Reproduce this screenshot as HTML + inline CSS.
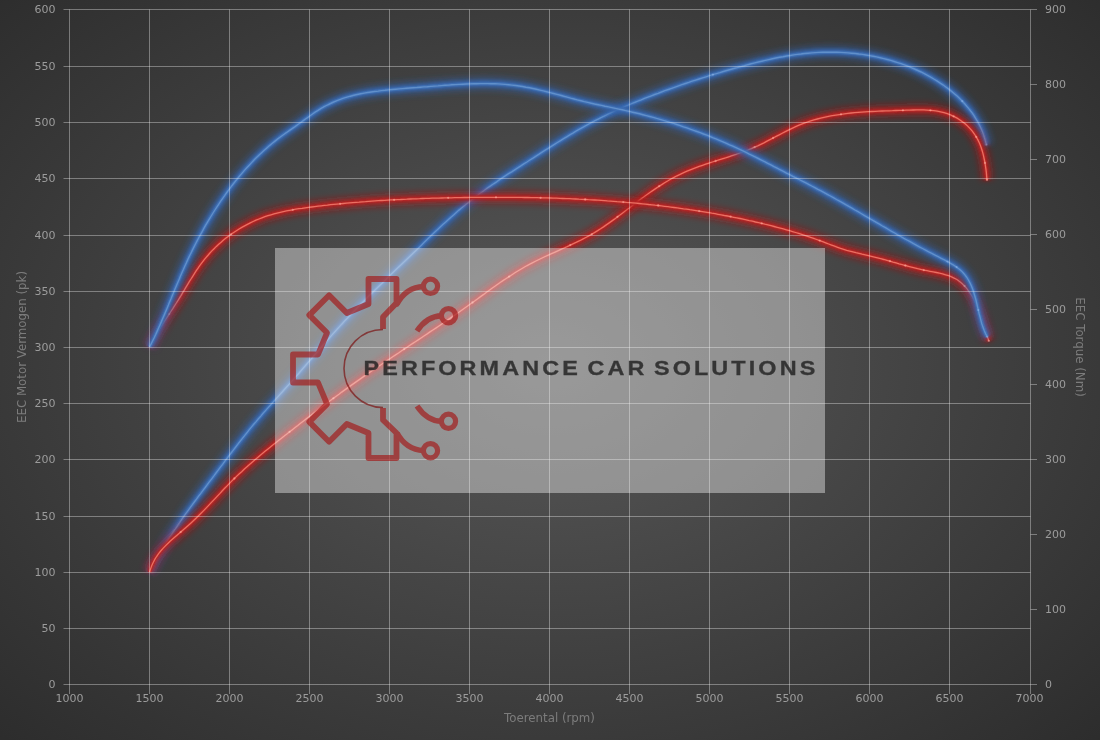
<!DOCTYPE html><html><head><meta charset="utf-8"><title>EEC dyno chart</title><style>
html,body{margin:0;padding:0;}
body{width:1100px;height:740px;overflow:hidden;background:radial-gradient(798px 563px at 550px 362.7px,rgb(88,88,88) 0%,rgb(43,43,43) 100%);}
svg{position:absolute;left:0;top:0;display:block;}
.lbl{font-family:"DejaVu Sans","Liberation Sans",sans-serif;font-size:11px;fill:#9c9c9c;}
.ttl{font-family:"DejaVu Sans","Liberation Sans",sans-serif;font-size:11.8px;fill:#7c7c7c;}
.wm{font-family:"Liberation Sans","DejaVu Sans",sans-serif;font-weight:bold;font-size:19.5px;letter-spacing:2.6px;word-spacing:-2.6px;fill:#1e1e1e;stroke:#1e1e1e;stroke-width:0.3px;opacity:0.8;}
</style></head><body>
<svg width="1100" height="740" viewBox="0 0 1100 740">
<defs>
<filter id="gw" x="-10%" y="-10%" width="120%" height="120%"><feGaussianBlur stdDeviation="3.2"/></filter>
<filter id="gn" x="-10%" y="-10%" width="120%" height="120%"><feGaussianBlur stdDeviation="1.4"/></filter>
<filter id="soft" x="-5%" y="-5%" width="110%" height="110%"><feGaussianBlur stdDeviation="0.6"/></filter>
</defs>
<text class="lbl" x="55.5" y="687.7" text-anchor="end">0</text>
<text class="lbl" x="55.5" y="631.7" text-anchor="end">50</text>
<text class="lbl" x="55.5" y="575.7" text-anchor="end">100</text>
<text class="lbl" x="55.5" y="519.7" text-anchor="end">150</text>
<text class="lbl" x="55.5" y="462.7" text-anchor="end">200</text>
<text class="lbl" x="55.5" y="406.7" text-anchor="end">250</text>
<text class="lbl" x="55.5" y="350.7" text-anchor="end">300</text>
<text class="lbl" x="55.5" y="294.7" text-anchor="end">350</text>
<text class="lbl" x="55.5" y="238.7" text-anchor="end">400</text>
<text class="lbl" x="55.5" y="181.7" text-anchor="end">450</text>
<text class="lbl" x="55.5" y="125.7" text-anchor="end">500</text>
<text class="lbl" x="55.5" y="69.7" text-anchor="end">550</text>
<text class="lbl" x="55.5" y="12.7" text-anchor="end">600</text>
<text class="lbl" x="69.5" y="701.7" text-anchor="middle">1000</text>
<text class="lbl" x="149.5" y="701.7" text-anchor="middle">1500</text>
<text class="lbl" x="229.5" y="701.7" text-anchor="middle">2000</text>
<text class="lbl" x="309.5" y="701.7" text-anchor="middle">2500</text>
<text class="lbl" x="389.5" y="701.7" text-anchor="middle">3000</text>
<text class="lbl" x="469.5" y="701.7" text-anchor="middle">3500</text>
<text class="lbl" x="549.5" y="701.7" text-anchor="middle">4000</text>
<text class="lbl" x="629.5" y="701.7" text-anchor="middle">4500</text>
<text class="lbl" x="709.5" y="701.7" text-anchor="middle">5000</text>
<text class="lbl" x="789.5" y="701.7" text-anchor="middle">5500</text>
<text class="lbl" x="869.5" y="701.7" text-anchor="middle">6000</text>
<text class="lbl" x="949.5" y="701.7" text-anchor="middle">6500</text>
<text class="lbl" x="1029.5" y="701.7" text-anchor="middle">7000</text>
<text class="lbl" x="1045" y="687.7">0</text>
<text class="lbl" x="1045" y="612.7">100</text>
<text class="lbl" x="1045" y="537.7">200</text>
<text class="lbl" x="1045" y="462.7">300</text>
<text class="lbl" x="1045" y="387.7">400</text>
<text class="lbl" x="1045" y="312.7">500</text>
<text class="lbl" x="1045" y="237.7">600</text>
<text class="lbl" x="1045" y="162.7">700</text>
<text class="lbl" x="1045" y="87.7">800</text>
<text class="lbl" x="1045" y="12.7">900</text>
<text class="ttl" x="0" y="0" text-anchor="middle" transform="translate(25.5,347) rotate(-90)">EEC Motor Vermogen (pk)</text>
<text class="ttl" x="0" y="0" text-anchor="middle" transform="translate(1075.5,347) rotate(90)">EEC Torque (Nm)</text>
<text class="ttl" x="549.5" y="722" text-anchor="middle">Toerental (rpm)</text>
<path d="M149.7,572.2 L151.3,569.0 L153.0,565.7 L154.7,562.6 L156.4,559.4 L158.2,556.2 L160.0,553.1 L161.9,550.0 L163.7,546.9 L165.6,543.8 L167.5,540.7 L169.5,537.6 L171.5,534.6 L173.4,531.6 L175.5,528.6 L177.5,525.6 L179.6,522.6 L181.6,519.6 L183.7,516.7 L185.8,513.7 L187.9,510.8 L190.0,507.8 L192.2,504.9 L194.3,502.0 L196.5,499.1 L198.6,496.2 L200.8,493.3 L203.0,490.4 L205.2,487.5 L207.3,484.6 L209.5,481.7 L211.7,478.8 L213.9,475.9 L216.0,473.0 L218.2,470.1 L220.4,467.2 L222.6,464.3 L224.7,461.4 L226.9,458.5 L229.1,455.6 L231.3,452.8 L233.5,449.9 L235.7,447.0 L237.9,444.1 L240.1,441.3 L242.4,438.4 L244.6,435.6 L246.9,432.8 L249.1,429.9 L251.4,427.1 L253.7,424.3 L256.1,421.6 L258.4,418.8 L260.8,416.1 L263.1,413.3 L265.5,410.6 L267.9,407.9 L270.3,405.2 L272.7,402.5 L275.2,399.8 L277.6,397.1 L280.0,394.4 L282.4,391.7 L284.8,389.0 L287.3,386.3 L289.7,383.6 L292.1,380.9 L294.5,378.2 L296.9,375.5 L299.3,372.8 L301.6,370.0 L304.0,367.3 L306.4,364.5 L308.7,361.8 L311.1,359.1 L313.5,356.3 L315.8,353.6 L318.2,350.8 L320.6,348.1 L322.9,345.3 L325.3,342.6 L327.7,339.9 L330.1,337.1 L332.5,334.4 L334.9,331.7 L337.3,329.0 L339.7,326.4 L342.2,323.7 L344.6,321.0 L347.1,318.4 L349.6,315.7 L352.1,313.1 L354.6,310.5 L357.1,307.9 L359.7,305.3 L362.2,302.7 L364.8,300.2 L367.3,297.6 L369.9,295.1 L372.5,292.5 L375.0,290.0 L377.6,287.4 L380.2,284.9 L382.8,282.4 L385.4,279.9 L388.0,277.3 L390.6,274.8 L393.2,272.3 L395.8,269.8 L398.4,267.3 L401.1,264.8 L403.7,262.3 L406.3,259.8 L408.9,257.2 L411.5,254.7 L414.1,252.2 L416.7,249.7 L419.3,247.2 L421.9,244.7 L424.5,242.1 L427.1,239.6 L429.7,237.1 L432.3,234.6 L434.9,232.1 L437.6,229.6 L440.2,227.1 L442.8,224.6 L445.5,222.2 L448.2,219.7 L450.9,217.3 L453.6,214.9 L456.3,212.5 L459.0,210.1 L461.8,207.8 L464.6,205.5 L467.4,203.2 L470.2,200.9 L473.1,198.7 L475.9,196.5 L478.8,194.3 L481.7,192.2 L484.7,190.0 L487.6,187.9 L490.6,185.9 L493.6,183.8 L496.6,181.8 L499.6,179.7 L502.6,177.7 L505.6,175.7 L508.6,173.7 L511.7,171.8 L514.7,169.8 L517.7,167.8 L520.8,165.9 L523.8,163.9 L526.9,162.0 L529.9,160.0 L533.0,158.1 L536.0,156.1 L539.1,154.2 L542.1,152.2 L545.2,150.2 L548.2,148.3 L551.3,146.4 L554.4,144.4 L557.4,142.5 L560.5,140.6 L563.6,138.7 L566.7,136.8 L569.8,134.9 L572.9,133.1 L576.0,131.2 L579.1,129.4 L582.3,127.6 L585.4,125.9 L588.6,124.1 L591.8,122.4 L595.0,120.7 L598.2,119.1 L601.5,117.4 L604.7,115.8 L608.0,114.2 L611.3,112.7 L614.5,111.2 L617.8,109.7 L621.1,108.2 L624.5,106.7 L627.8,105.3 L631.1,103.9 L634.5,102.5 L637.8,101.1 L641.2,99.8 L644.5,98.4 L647.9,97.1 L651.3,95.8 L654.7,94.5 L658.1,93.3 L661.5,92.0 L664.9,90.7 L668.3,89.5 L671.7,88.3 L675.1,87.1 L678.5,85.9 L681.9,84.7 L685.4,83.5 L688.8,82.4 L692.2,81.2 L695.7,80.1 L699.1,79.0 L702.6,77.9 L706.0,76.8 L709.5,75.7 L712.9,74.7 L716.4,73.6 L719.9,72.6 L723.3,71.5 L726.8,70.5 L730.3,69.5 L733.8,68.5 L737.3,67.6 L740.8,66.6 L744.3,65.7 L747.8,64.7 L751.3,63.8 L754.8,62.9 L758.3,62.0 L761.8,61.2 L765.3,60.4 L768.9,59.6 L772.4,58.8 L775.9,58.0 L779.5,57.3 L783.1,56.7 L786.6,56.0 L790.2,55.5 L793.8,54.9 L797.4,54.4 L801.0,54.0 L804.6,53.5 L808.2,53.2 L811.8,52.9 L815.4,52.6 L819.0,52.4 L822.6,52.3 L826.2,52.2 L829.9,52.2 L833.5,52.2 L837.1,52.3 L840.7,52.4 L844.3,52.6 L848.0,52.9 L851.6,53.2 L855.2,53.5 L858.8,54.0 L862.4,54.4 L865.9,55.0 L869.5,55.6 L873.1,56.2 L876.6,56.9 L880.2,57.7 L883.7,58.6 L887.2,59.5 L890.7,60.4 L894.1,61.5 L897.6,62.6 L901.0,63.7 L904.4,64.9 L907.8,66.2 L911.2,67.6 L914.5,69.0 L917.8,70.5 L921.1,72.0 L924.3,73.7 L927.5,75.4 L930.7,77.1 L933.8,79.0 L936.9,80.8 L939.9,82.8 L942.9,84.8 L945.9,87.0 L948.8,89.1 L951.6,91.4 L954.4,93.7 L957.1,96.1 L959.7,98.6 L962.3,101.2 L964.7,103.8 L967.1,106.6 L969.4,109.4 L971.6,112.2 L973.7,115.2 L975.6,118.3 L977.5,121.4 L979.2,124.6 L980.7,127.8 L982.2,131.2 L983.4,134.6 L984.6,138.0 L985.6,141.5 L986.4,145.0" fill="none" stroke="#2d5ea8" stroke-width="13" stroke-opacity="0.55" filter="url(#gw)"/>
<path d="M149.7,572.2 L151.3,569.0 L153.0,565.7 L154.7,562.6 L156.4,559.4 L158.2,556.2 L160.0,553.1 L161.9,550.0 L163.7,546.9 L165.6,543.8 L167.5,540.7 L169.5,537.6 L171.5,534.6 L173.4,531.6 L175.5,528.6 L177.5,525.6 L179.6,522.6 L181.6,519.6 L183.7,516.7 L185.8,513.7 L187.9,510.8 L190.0,507.8 L192.2,504.9 L194.3,502.0 L196.5,499.1 L198.6,496.2 L200.8,493.3 L203.0,490.4 L205.2,487.5 L207.3,484.6 L209.5,481.7 L211.7,478.8 L213.9,475.9 L216.0,473.0 L218.2,470.1 L220.4,467.2 L222.6,464.3 L224.7,461.4 L226.9,458.5 L229.1,455.6 L231.3,452.8 L233.5,449.9 L235.7,447.0 L237.9,444.1 L240.1,441.3 L242.4,438.4 L244.6,435.6 L246.9,432.8 L249.1,429.9 L251.4,427.1 L253.7,424.3 L256.1,421.6 L258.4,418.8 L260.8,416.1 L263.1,413.3 L265.5,410.6 L267.9,407.9 L270.3,405.2 L272.7,402.5 L275.2,399.8 L277.6,397.1 L280.0,394.4 L282.4,391.7 L284.8,389.0 L287.3,386.3 L289.7,383.6 L292.1,380.9 L294.5,378.2 L296.9,375.5 L299.3,372.8 L301.6,370.0 L304.0,367.3 L306.4,364.5 L308.7,361.8 L311.1,359.1 L313.5,356.3 L315.8,353.6 L318.2,350.8 L320.6,348.1 L322.9,345.3 L325.3,342.6 L327.7,339.9 L330.1,337.1 L332.5,334.4 L334.9,331.7 L337.3,329.0 L339.7,326.4 L342.2,323.7 L344.6,321.0 L347.1,318.4 L349.6,315.7 L352.1,313.1 L354.6,310.5 L357.1,307.9 L359.7,305.3 L362.2,302.7 L364.8,300.2 L367.3,297.6 L369.9,295.1 L372.5,292.5 L375.0,290.0 L377.6,287.4 L380.2,284.9 L382.8,282.4 L385.4,279.9 L388.0,277.3 L390.6,274.8 L393.2,272.3 L395.8,269.8 L398.4,267.3 L401.1,264.8 L403.7,262.3 L406.3,259.8 L408.9,257.2 L411.5,254.7 L414.1,252.2 L416.7,249.7 L419.3,247.2 L421.9,244.7 L424.5,242.1 L427.1,239.6 L429.7,237.1 L432.3,234.6 L434.9,232.1 L437.6,229.6 L440.2,227.1 L442.8,224.6 L445.5,222.2 L448.2,219.7 L450.9,217.3 L453.6,214.9 L456.3,212.5 L459.0,210.1 L461.8,207.8 L464.6,205.5 L467.4,203.2 L470.2,200.9 L473.1,198.7 L475.9,196.5 L478.8,194.3 L481.7,192.2 L484.7,190.0 L487.6,187.9 L490.6,185.9 L493.6,183.8 L496.6,181.8 L499.6,179.7 L502.6,177.7 L505.6,175.7 L508.6,173.7 L511.7,171.8 L514.7,169.8 L517.7,167.8 L520.8,165.9 L523.8,163.9 L526.9,162.0 L529.9,160.0 L533.0,158.1 L536.0,156.1 L539.1,154.2 L542.1,152.2 L545.2,150.2 L548.2,148.3 L551.3,146.4 L554.4,144.4 L557.4,142.5 L560.5,140.6 L563.6,138.7 L566.7,136.8 L569.8,134.9 L572.9,133.1 L576.0,131.2 L579.1,129.4 L582.3,127.6 L585.4,125.9 L588.6,124.1 L591.8,122.4 L595.0,120.7 L598.2,119.1 L601.5,117.4 L604.7,115.8 L608.0,114.2 L611.3,112.7 L614.5,111.2 L617.8,109.7 L621.1,108.2 L624.5,106.7 L627.8,105.3 L631.1,103.9 L634.5,102.5 L637.8,101.1 L641.2,99.8 L644.5,98.4 L647.9,97.1 L651.3,95.8 L654.7,94.5 L658.1,93.3 L661.5,92.0 L664.9,90.7 L668.3,89.5 L671.7,88.3 L675.1,87.1 L678.5,85.9 L681.9,84.7 L685.4,83.5 L688.8,82.4 L692.2,81.2 L695.7,80.1 L699.1,79.0 L702.6,77.9 L706.0,76.8 L709.5,75.7 L712.9,74.7 L716.4,73.6 L719.9,72.6 L723.3,71.5 L726.8,70.5 L730.3,69.5 L733.8,68.5 L737.3,67.6 L740.8,66.6 L744.3,65.7 L747.8,64.7 L751.3,63.8 L754.8,62.9 L758.3,62.0 L761.8,61.2 L765.3,60.4 L768.9,59.6 L772.4,58.8 L775.9,58.0 L779.5,57.3 L783.1,56.7 L786.6,56.0 L790.2,55.5 L793.8,54.9 L797.4,54.4 L801.0,54.0 L804.6,53.5 L808.2,53.2 L811.8,52.9 L815.4,52.6 L819.0,52.4 L822.6,52.3 L826.2,52.2 L829.9,52.2 L833.5,52.2 L837.1,52.3 L840.7,52.4 L844.3,52.6 L848.0,52.9 L851.6,53.2 L855.2,53.5 L858.8,54.0 L862.4,54.4 L865.9,55.0 L869.5,55.6 L873.1,56.2 L876.6,56.9 L880.2,57.7 L883.7,58.6 L887.2,59.5 L890.7,60.4 L894.1,61.5 L897.6,62.6 L901.0,63.7 L904.4,64.9 L907.8,66.2 L911.2,67.6 L914.5,69.0 L917.8,70.5 L921.1,72.0 L924.3,73.7 L927.5,75.4 L930.7,77.1 L933.8,79.0 L936.9,80.8 L939.9,82.8 L942.9,84.8 L945.9,87.0 L948.8,89.1 L951.6,91.4 L954.4,93.7 L957.1,96.1 L959.7,98.6 L962.3,101.2 L964.7,103.8 L967.1,106.6 L969.4,109.4 L971.6,112.2 L973.7,115.2 L975.6,118.3 L977.5,121.4 L979.2,124.6 L980.7,127.8 L982.2,131.2 L983.4,134.6 L984.6,138.0 L985.6,141.5 L986.4,145.0" fill="none" stroke="#3566ae" stroke-width="6.5" stroke-opacity="0.85" filter="url(#gn)"/>
<g filter="url(#soft)">
<path d="M149.7,572.2 L151.3,569.0 L153.0,565.7 L154.7,562.6 L156.4,559.4 L158.2,556.2 L160.0,553.1 L161.9,550.0 L163.7,546.9 L165.6,543.8 L167.5,540.7 L169.5,537.6 L171.5,534.6 L173.4,531.6 L175.5,528.6 L177.5,525.6 L179.6,522.6 L181.6,519.6 L183.7,516.7 L185.8,513.7 L187.9,510.8 L190.0,507.8 L192.2,504.9 L194.3,502.0 L196.5,499.1 L198.6,496.2 L200.8,493.3 L203.0,490.4 L205.2,487.5 L207.3,484.6 L209.5,481.7 L211.7,478.8 L213.9,475.9 L216.0,473.0 L218.2,470.1 L220.4,467.2 L222.6,464.3 L224.7,461.4 L226.9,458.5 L229.1,455.6 L231.3,452.8 L233.5,449.9 L235.7,447.0 L237.9,444.1 L240.1,441.3 L242.4,438.4 L244.6,435.6 L246.9,432.8 L249.1,429.9 L251.4,427.1 L253.7,424.3 L256.1,421.6 L258.4,418.8 L260.8,416.1 L263.1,413.3 L265.5,410.6 L267.9,407.9 L270.3,405.2 L272.7,402.5 L275.2,399.8 L277.6,397.1 L280.0,394.4 L282.4,391.7 L284.8,389.0 L287.3,386.3 L289.7,383.6 L292.1,380.9 L294.5,378.2 L296.9,375.5 L299.3,372.8 L301.6,370.0 L304.0,367.3 L306.4,364.5 L308.7,361.8 L311.1,359.1 L313.5,356.3 L315.8,353.6 L318.2,350.8 L320.6,348.1 L322.9,345.3 L325.3,342.6 L327.7,339.9 L330.1,337.1 L332.5,334.4 L334.9,331.7 L337.3,329.0 L339.7,326.4 L342.2,323.7 L344.6,321.0 L347.1,318.4 L349.6,315.7 L352.1,313.1 L354.6,310.5 L357.1,307.9 L359.7,305.3 L362.2,302.7 L364.8,300.2 L367.3,297.6 L369.9,295.1 L372.5,292.5 L375.0,290.0 L377.6,287.4 L380.2,284.9 L382.8,282.4 L385.4,279.9 L388.0,277.3 L390.6,274.8 L393.2,272.3 L395.8,269.8 L398.4,267.3 L401.1,264.8 L403.7,262.3 L406.3,259.8 L408.9,257.2 L411.5,254.7 L414.1,252.2 L416.7,249.7 L419.3,247.2 L421.9,244.7 L424.5,242.1 L427.1,239.6 L429.7,237.1 L432.3,234.6 L434.9,232.1 L437.6,229.6 L440.2,227.1 L442.8,224.6 L445.5,222.2 L448.2,219.7 L450.9,217.3 L453.6,214.9 L456.3,212.5 L459.0,210.1 L461.8,207.8 L464.6,205.5 L467.4,203.2 L470.2,200.9 L473.1,198.7 L475.9,196.5 L478.8,194.3 L481.7,192.2 L484.7,190.0 L487.6,187.9 L490.6,185.9 L493.6,183.8 L496.6,181.8 L499.6,179.7 L502.6,177.7 L505.6,175.7 L508.6,173.7 L511.7,171.8 L514.7,169.8 L517.7,167.8 L520.8,165.9 L523.8,163.9 L526.9,162.0 L529.9,160.0 L533.0,158.1 L536.0,156.1 L539.1,154.2 L542.1,152.2 L545.2,150.2 L548.2,148.3 L551.3,146.4 L554.4,144.4 L557.4,142.5 L560.5,140.6 L563.6,138.7 L566.7,136.8 L569.8,134.9 L572.9,133.1 L576.0,131.2 L579.1,129.4 L582.3,127.6 L585.4,125.9 L588.6,124.1 L591.8,122.4 L595.0,120.7 L598.2,119.1 L601.5,117.4 L604.7,115.8 L608.0,114.2 L611.3,112.7 L614.5,111.2 L617.8,109.7 L621.1,108.2 L624.5,106.7 L627.8,105.3 L631.1,103.9 L634.5,102.5 L637.8,101.1 L641.2,99.8 L644.5,98.4 L647.9,97.1 L651.3,95.8 L654.7,94.5 L658.1,93.3 L661.5,92.0 L664.9,90.7 L668.3,89.5 L671.7,88.3 L675.1,87.1 L678.5,85.9 L681.9,84.7 L685.4,83.5 L688.8,82.4 L692.2,81.2 L695.7,80.1 L699.1,79.0 L702.6,77.9 L706.0,76.8 L709.5,75.7 L712.9,74.7 L716.4,73.6 L719.9,72.6 L723.3,71.5 L726.8,70.5 L730.3,69.5 L733.8,68.5 L737.3,67.6 L740.8,66.6 L744.3,65.7 L747.8,64.7 L751.3,63.8 L754.8,62.9 L758.3,62.0 L761.8,61.2 L765.3,60.4 L768.9,59.6 L772.4,58.8 L775.9,58.0 L779.5,57.3 L783.1,56.7 L786.6,56.0 L790.2,55.5 L793.8,54.9 L797.4,54.4 L801.0,54.0 L804.6,53.5 L808.2,53.2 L811.8,52.9 L815.4,52.6 L819.0,52.4 L822.6,52.3 L826.2,52.2 L829.9,52.2 L833.5,52.2 L837.1,52.3 L840.7,52.4 L844.3,52.6 L848.0,52.9 L851.6,53.2 L855.2,53.5 L858.8,54.0 L862.4,54.4 L865.9,55.0 L869.5,55.6 L873.1,56.2 L876.6,56.9 L880.2,57.7 L883.7,58.6 L887.2,59.5 L890.7,60.4 L894.1,61.5 L897.6,62.6 L901.0,63.7 L904.4,64.9 L907.8,66.2 L911.2,67.6 L914.5,69.0 L917.8,70.5 L921.1,72.0 L924.3,73.7 L927.5,75.4 L930.7,77.1 L933.8,79.0 L936.9,80.8 L939.9,82.8 L942.9,84.8 L945.9,87.0 L948.8,89.1 L951.6,91.4 L954.4,93.7 L957.1,96.1 L959.7,98.6 L962.3,101.2 L964.7,103.8 L967.1,106.6 L969.4,109.4 L971.6,112.2 L973.7,115.2 L975.6,118.3 L977.5,121.4 L979.2,124.6 L980.7,127.8 L982.2,131.2 L983.4,134.6 L984.6,138.0 L985.6,141.5 L986.4,145.0" fill="none" stroke="#4072b6" stroke-width="3.6" stroke-opacity="0.75"/>
<path d="M149.7,572.2 L151.3,569.0 L153.0,565.7 L154.7,562.6 L156.4,559.4 L158.2,556.2 L160.0,553.1 L161.9,550.0 L163.7,546.9 L165.6,543.8 L167.5,540.7 L169.5,537.6 L171.5,534.6 L173.4,531.6 L175.5,528.6 L177.5,525.6 L179.6,522.6 L181.6,519.6 L183.7,516.7 L185.8,513.7 L187.9,510.8 L190.0,507.8 L192.2,504.9 L194.3,502.0 L196.5,499.1 L198.6,496.2 L200.8,493.3 L203.0,490.4 L205.2,487.5 L207.3,484.6 L209.5,481.7 L211.7,478.8 L213.9,475.9 L216.0,473.0 L218.2,470.1 L220.4,467.2 L222.6,464.3 L224.7,461.4 L226.9,458.5 L229.1,455.6 L231.3,452.8 L233.5,449.9 L235.7,447.0 L237.9,444.1 L240.1,441.3 L242.4,438.4 L244.6,435.6 L246.9,432.8 L249.1,429.9 L251.4,427.1 L253.7,424.3 L256.1,421.6 L258.4,418.8 L260.8,416.1 L263.1,413.3 L265.5,410.6 L267.9,407.9 L270.3,405.2 L272.7,402.5 L275.2,399.8 L277.6,397.1 L280.0,394.4 L282.4,391.7 L284.8,389.0 L287.3,386.3 L289.7,383.6 L292.1,380.9 L294.5,378.2 L296.9,375.5 L299.3,372.8 L301.6,370.0 L304.0,367.3 L306.4,364.5 L308.7,361.8 L311.1,359.1 L313.5,356.3 L315.8,353.6 L318.2,350.8 L320.6,348.1 L322.9,345.3 L325.3,342.6 L327.7,339.9 L330.1,337.1 L332.5,334.4 L334.9,331.7 L337.3,329.0 L339.7,326.4 L342.2,323.7 L344.6,321.0 L347.1,318.4 L349.6,315.7 L352.1,313.1 L354.6,310.5 L357.1,307.9 L359.7,305.3 L362.2,302.7 L364.8,300.2 L367.3,297.6 L369.9,295.1 L372.5,292.5 L375.0,290.0 L377.6,287.4 L380.2,284.9 L382.8,282.4 L385.4,279.9 L388.0,277.3 L390.6,274.8 L393.2,272.3 L395.8,269.8 L398.4,267.3 L401.1,264.8 L403.7,262.3 L406.3,259.8 L408.9,257.2 L411.5,254.7 L414.1,252.2 L416.7,249.7 L419.3,247.2 L421.9,244.7 L424.5,242.1 L427.1,239.6 L429.7,237.1 L432.3,234.6 L434.9,232.1 L437.6,229.6 L440.2,227.1 L442.8,224.6 L445.5,222.2 L448.2,219.7 L450.9,217.3 L453.6,214.9 L456.3,212.5 L459.0,210.1 L461.8,207.8 L464.6,205.5 L467.4,203.2 L470.2,200.9 L473.1,198.7 L475.9,196.5 L478.8,194.3 L481.7,192.2 L484.7,190.0 L487.6,187.9 L490.6,185.9 L493.6,183.8 L496.6,181.8 L499.6,179.7 L502.6,177.7 L505.6,175.7 L508.6,173.7 L511.7,171.8 L514.7,169.8 L517.7,167.8 L520.8,165.9 L523.8,163.9 L526.9,162.0 L529.9,160.0 L533.0,158.1 L536.0,156.1 L539.1,154.2 L542.1,152.2 L545.2,150.2 L548.2,148.3 L551.3,146.4 L554.4,144.4 L557.4,142.5 L560.5,140.6 L563.6,138.7 L566.7,136.8 L569.8,134.9 L572.9,133.1 L576.0,131.2 L579.1,129.4 L582.3,127.6 L585.4,125.9 L588.6,124.1 L591.8,122.4 L595.0,120.7 L598.2,119.1 L601.5,117.4 L604.7,115.8 L608.0,114.2 L611.3,112.7 L614.5,111.2 L617.8,109.7 L621.1,108.2 L624.5,106.7 L627.8,105.3 L631.1,103.9 L634.5,102.5 L637.8,101.1 L641.2,99.8 L644.5,98.4 L647.9,97.1 L651.3,95.8 L654.7,94.5 L658.1,93.3 L661.5,92.0 L664.9,90.7 L668.3,89.5 L671.7,88.3 L675.1,87.1 L678.5,85.9 L681.9,84.7 L685.4,83.5 L688.8,82.4 L692.2,81.2 L695.7,80.1 L699.1,79.0 L702.6,77.9 L706.0,76.8 L709.5,75.7 L712.9,74.7 L716.4,73.6 L719.9,72.6 L723.3,71.5 L726.8,70.5 L730.3,69.5 L733.8,68.5 L737.3,67.6 L740.8,66.6 L744.3,65.7 L747.8,64.7 L751.3,63.8 L754.8,62.9 L758.3,62.0 L761.8,61.2 L765.3,60.4 L768.9,59.6 L772.4,58.8 L775.9,58.0 L779.5,57.3 L783.1,56.7 L786.6,56.0 L790.2,55.5 L793.8,54.9 L797.4,54.4 L801.0,54.0 L804.6,53.5 L808.2,53.2 L811.8,52.9 L815.4,52.6 L819.0,52.4 L822.6,52.3 L826.2,52.2 L829.9,52.2 L833.5,52.2 L837.1,52.3 L840.7,52.4 L844.3,52.6 L848.0,52.9 L851.6,53.2 L855.2,53.5 L858.8,54.0 L862.4,54.4 L865.9,55.0 L869.5,55.6 L873.1,56.2 L876.6,56.9 L880.2,57.7 L883.7,58.6 L887.2,59.5 L890.7,60.4 L894.1,61.5 L897.6,62.6 L901.0,63.7 L904.4,64.9 L907.8,66.2 L911.2,67.6 L914.5,69.0 L917.8,70.5 L921.1,72.0 L924.3,73.7 L927.5,75.4 L930.7,77.1 L933.8,79.0 L936.9,80.8 L939.9,82.8 L942.9,84.8 L945.9,87.0 L948.8,89.1 L951.6,91.4 L954.4,93.7 L957.1,96.1 L959.7,98.6 L962.3,101.2 L964.7,103.8 L967.1,106.6 L969.4,109.4 L971.6,112.2 L973.7,115.2 L975.6,118.3 L977.5,121.4 L979.2,124.6 L980.7,127.8 L982.2,131.2 L983.4,134.6 L984.6,138.0 L985.6,141.5 L986.4,145.0" fill="none" stroke="#6a98d2" stroke-width="1.4" stroke-opacity="0.8"/>
</g>
<circle cx="712.9" cy="74.7" r="1.15" fill="#a8ccff" fill-opacity="0.35"/>
<circle cx="962.3" cy="101.2" r="1.15" fill="#a8ccff" fill-opacity="0.35"/>
<circle cx="986.4" cy="145.0" r="1.15" fill="#a8ccff" fill-opacity="0.35"/>
<path d="M149.7,572.2 L150.6,568.9 L151.8,565.6 L153.2,562.5 L154.8,559.4 L156.6,556.5 L158.6,553.7 L160.7,551.0 L163.0,548.4 L165.4,545.9 L167.8,543.5 L170.3,541.1 L172.9,538.8 L175.5,536.5 L178.1,534.3 L180.7,532.1 L183.3,529.8 L185.9,527.5 L188.5,525.2 L191.0,522.9 L193.6,520.5 L196.0,518.2 L198.5,515.8 L201.0,513.3 L203.4,510.9 L205.8,508.4 L208.2,505.9 L210.5,503.4 L212.9,500.9 L215.3,498.4 L217.6,495.9 L220.0,493.4 L222.3,490.8 L224.7,488.3 L227.1,485.9 L229.5,483.4 L231.9,480.9 L234.4,478.5 L236.8,476.1 L239.3,473.7 L241.9,471.4 L244.4,469.0 L247.0,466.7 L249.5,464.4 L252.1,462.2 L254.7,459.9 L257.4,457.7 L260.0,455.5 L262.7,453.3 L265.3,451.1 L268.0,448.9 L270.7,446.7 L273.4,444.6 L276.1,442.4 L278.8,440.3 L281.5,438.2 L284.2,436.1 L286.9,433.9 L289.6,431.8 L292.4,429.7 L295.1,427.6 L297.8,425.5 L300.5,423.3 L303.2,421.2 L306.0,419.1 L308.7,417.0 L311.4,414.9 L314.2,412.8 L316.9,410.7 L319.6,408.6 L322.4,406.5 L325.1,404.5 L327.9,402.4 L330.7,400.3 L333.4,398.3 L336.2,396.2 L339.0,394.2 L341.7,392.1 L344.5,390.1 L347.3,388.1 L350.1,386.1 L352.9,384.1 L355.7,382.1 L358.6,380.1 L361.4,378.1 L364.2,376.1 L367.0,374.2 L369.9,372.2 L372.7,370.3 L375.6,368.3 L378.4,366.4 L381.3,364.5 L384.1,362.5 L387.0,360.6 L389.9,358.7 L392.7,356.8 L395.6,354.9 L398.5,353.0 L401.3,351.0 L404.2,349.1 L407.1,347.2 L409.9,345.3 L412.8,343.4 L415.7,341.5 L418.6,339.6 L421.4,337.7 L424.3,335.8 L427.2,333.9 L430.0,331.9 L432.9,330.0 L435.8,328.1 L438.6,326.2 L441.5,324.2 L444.3,322.3 L447.2,320.4 L450.0,318.4 L452.8,316.4 L455.7,314.5 L458.5,312.5 L461.3,310.5 L464.1,308.5 L466.9,306.5 L469.7,304.5 L472.5,302.5 L475.3,300.5 L478.1,298.4 L480.9,296.4 L483.7,294.4 L486.5,292.3 L489.3,290.3 L492.0,288.3 L494.9,286.3 L497.7,284.3 L500.5,282.3 L503.3,280.4 L506.2,278.5 L509.1,276.6 L512.0,274.7 L514.9,272.8 L517.8,271.0 L520.8,269.2 L523.7,267.5 L526.7,265.8 L529.8,264.2 L532.8,262.6 L535.9,261.0 L539.0,259.5 L542.1,258.0 L545.2,256.5 L548.3,255.1 L551.5,253.7 L554.6,252.3 L557.8,250.8 L560.9,249.4 L564.1,248.0 L567.2,246.6 L570.3,245.1 L573.4,243.7 L576.6,242.2 L579.7,240.7 L582.7,239.1 L585.8,237.5 L588.8,235.9 L591.8,234.2 L594.8,232.4 L597.7,230.6 L600.6,228.8 L603.5,226.9 L606.3,224.9 L609.2,222.9 L612.0,220.9 L614.8,218.9 L617.5,216.8 L620.3,214.8 L623.0,212.7 L625.8,210.6 L628.5,208.5 L631.2,206.4 L634.0,204.3 L636.7,202.2 L639.5,200.1 L642.2,198.1 L645.0,196.0 L647.8,194.0 L650.6,192.0 L653.4,190.1 L656.3,188.1 L659.2,186.2 L662.1,184.4 L665.0,182.5 L668.0,180.8 L670.9,179.0 L674.0,177.4 L677.0,175.8 L680.1,174.3 L683.2,172.8 L686.4,171.4 L689.6,170.1 L692.8,168.8 L696.0,167.6 L699.2,166.4 L702.5,165.3 L705.7,164.2 L709.0,163.1 L712.3,162.0 L715.6,161.0 L718.9,159.9 L722.2,158.9 L725.5,157.9 L728.7,156.8 L732.0,155.7 L735.3,154.6 L738.5,153.5 L741.8,152.4 L745.0,151.1 L748.2,149.9 L751.4,148.6 L754.6,147.2 L757.7,145.8 L760.8,144.3 L763.9,142.8 L767.0,141.2 L770.0,139.6 L773.1,138.0 L776.1,136.4 L779.2,134.8 L782.2,133.2 L785.3,131.6 L788.4,130.1 L791.5,128.6 L794.6,127.1 L797.8,125.7 L801.0,124.4 L804.2,123.2 L807.4,122.0 L810.7,120.9 L814.0,119.9 L817.3,119.0 L820.7,118.1 L824.0,117.3 L827.4,116.6 L830.8,115.9 L834.1,115.3 L837.6,114.8 L841.0,114.3 L844.4,113.8 L847.8,113.4 L851.2,113.0 L854.7,112.7 L858.1,112.4 L861.5,112.1 L865.0,111.9 L868.4,111.7 L871.8,111.5 L875.3,111.3 L878.7,111.1 L882.2,111.0 L885.6,110.9 L889.1,110.8 L892.5,110.7 L896.0,110.5 L899.4,110.4 L902.9,110.3 L906.3,110.2 L909.7,110.1 L913.2,110.0 L916.6,109.9 L920.1,109.9 L923.5,109.9 L927.0,110.1 L930.4,110.3 L933.8,110.6 L937.3,111.1 L940.6,111.8 L944.0,112.6 L947.3,113.6 L950.5,114.8 L953.6,116.3 L956.7,117.9 L959.6,119.7 L962.4,121.7 L965.1,123.8 L967.7,126.1 L970.1,128.6 L972.3,131.2 L974.4,134.0 L976.2,136.9 L977.9,139.9 L979.4,143.0 L980.7,146.2 L981.8,149.5 L982.8,152.8 L983.6,156.1 L984.3,159.5 L985.0,162.9 L985.5,166.3 L986.0,169.7 L986.4,173.1 L986.7,176.6 L987.0,180.0" fill="none" stroke="#b01c1c" stroke-width="13" stroke-opacity="0.5" filter="url(#gw)"/>
<path d="M149.7,572.2 L150.6,568.9 L151.8,565.6 L153.2,562.5 L154.8,559.4 L156.6,556.5 L158.6,553.7 L160.7,551.0 L163.0,548.4 L165.4,545.9 L167.8,543.5 L170.3,541.1 L172.9,538.8 L175.5,536.5 L178.1,534.3 L180.7,532.1 L183.3,529.8 L185.9,527.5 L188.5,525.2 L191.0,522.9 L193.6,520.5 L196.0,518.2 L198.5,515.8 L201.0,513.3 L203.4,510.9 L205.8,508.4 L208.2,505.9 L210.5,503.4 L212.9,500.9 L215.3,498.4 L217.6,495.9 L220.0,493.4 L222.3,490.8 L224.7,488.3 L227.1,485.9 L229.5,483.4 L231.9,480.9 L234.4,478.5 L236.8,476.1 L239.3,473.7 L241.9,471.4 L244.4,469.0 L247.0,466.7 L249.5,464.4 L252.1,462.2 L254.7,459.9 L257.4,457.7 L260.0,455.5 L262.7,453.3 L265.3,451.1 L268.0,448.9 L270.7,446.7 L273.4,444.6 L276.1,442.4 L278.8,440.3 L281.5,438.2 L284.2,436.1 L286.9,433.9 L289.6,431.8 L292.4,429.7 L295.1,427.6 L297.8,425.5 L300.5,423.3 L303.2,421.2 L306.0,419.1 L308.7,417.0 L311.4,414.9 L314.2,412.8 L316.9,410.7 L319.6,408.6 L322.4,406.5 L325.1,404.5 L327.9,402.4 L330.7,400.3 L333.4,398.3 L336.2,396.2 L339.0,394.2 L341.7,392.1 L344.5,390.1 L347.3,388.1 L350.1,386.1 L352.9,384.1 L355.7,382.1 L358.6,380.1 L361.4,378.1 L364.2,376.1 L367.0,374.2 L369.9,372.2 L372.7,370.3 L375.6,368.3 L378.4,366.4 L381.3,364.5 L384.1,362.5 L387.0,360.6 L389.9,358.7 L392.7,356.8 L395.6,354.9 L398.5,353.0 L401.3,351.0 L404.2,349.1 L407.1,347.2 L409.9,345.3 L412.8,343.4 L415.7,341.5 L418.6,339.6 L421.4,337.7 L424.3,335.8 L427.2,333.9 L430.0,331.9 L432.9,330.0 L435.8,328.1 L438.6,326.2 L441.5,324.2 L444.3,322.3 L447.2,320.4 L450.0,318.4 L452.8,316.4 L455.7,314.5 L458.5,312.5 L461.3,310.5 L464.1,308.5 L466.9,306.5 L469.7,304.5 L472.5,302.5 L475.3,300.5 L478.1,298.4 L480.9,296.4 L483.7,294.4 L486.5,292.3 L489.3,290.3 L492.0,288.3 L494.9,286.3 L497.7,284.3 L500.5,282.3 L503.3,280.4 L506.2,278.5 L509.1,276.6 L512.0,274.7 L514.9,272.8 L517.8,271.0 L520.8,269.2 L523.7,267.5 L526.7,265.8 L529.8,264.2 L532.8,262.6 L535.9,261.0 L539.0,259.5 L542.1,258.0 L545.2,256.5 L548.3,255.1 L551.5,253.7 L554.6,252.3 L557.8,250.8 L560.9,249.4 L564.1,248.0 L567.2,246.6 L570.3,245.1 L573.4,243.7 L576.6,242.2 L579.7,240.7 L582.7,239.1 L585.8,237.5 L588.8,235.9 L591.8,234.2 L594.8,232.4 L597.7,230.6 L600.6,228.8 L603.5,226.9 L606.3,224.9 L609.2,222.9 L612.0,220.9 L614.8,218.9 L617.5,216.8 L620.3,214.8 L623.0,212.7 L625.8,210.6 L628.5,208.5 L631.2,206.4 L634.0,204.3 L636.7,202.2 L639.5,200.1 L642.2,198.1 L645.0,196.0 L647.8,194.0 L650.6,192.0 L653.4,190.1 L656.3,188.1 L659.2,186.2 L662.1,184.4 L665.0,182.5 L668.0,180.8 L670.9,179.0 L674.0,177.4 L677.0,175.8 L680.1,174.3 L683.2,172.8 L686.4,171.4 L689.6,170.1 L692.8,168.8 L696.0,167.6 L699.2,166.4 L702.5,165.3 L705.7,164.2 L709.0,163.1 L712.3,162.0 L715.6,161.0 L718.9,159.9 L722.2,158.9 L725.5,157.9 L728.7,156.8 L732.0,155.7 L735.3,154.6 L738.5,153.5 L741.8,152.4 L745.0,151.1 L748.2,149.9 L751.4,148.6 L754.6,147.2 L757.7,145.8 L760.8,144.3 L763.9,142.8 L767.0,141.2 L770.0,139.6 L773.1,138.0 L776.1,136.4 L779.2,134.8 L782.2,133.2 L785.3,131.6 L788.4,130.1 L791.5,128.6 L794.6,127.1 L797.8,125.7 L801.0,124.4 L804.2,123.2 L807.4,122.0 L810.7,120.9 L814.0,119.9 L817.3,119.0 L820.7,118.1 L824.0,117.3 L827.4,116.6 L830.8,115.9 L834.1,115.3 L837.6,114.8 L841.0,114.3 L844.4,113.8 L847.8,113.4 L851.2,113.0 L854.7,112.7 L858.1,112.4 L861.5,112.1 L865.0,111.9 L868.4,111.7 L871.8,111.5 L875.3,111.3 L878.7,111.1 L882.2,111.0 L885.6,110.9 L889.1,110.8 L892.5,110.7 L896.0,110.5 L899.4,110.4 L902.9,110.3 L906.3,110.2 L909.7,110.1 L913.2,110.0 L916.6,109.9 L920.1,109.9 L923.5,109.9 L927.0,110.1 L930.4,110.3 L933.8,110.6 L937.3,111.1 L940.6,111.8 L944.0,112.6 L947.3,113.6 L950.5,114.8 L953.6,116.3 L956.7,117.9 L959.6,119.7 L962.4,121.7 L965.1,123.8 L967.7,126.1 L970.1,128.6 L972.3,131.2 L974.4,134.0 L976.2,136.9 L977.9,139.9 L979.4,143.0 L980.7,146.2 L981.8,149.5 L982.8,152.8 L983.6,156.1 L984.3,159.5 L985.0,162.9 L985.5,166.3 L986.0,169.7 L986.4,173.1 L986.7,176.6 L987.0,180.0" fill="none" stroke="#b41e1e" stroke-width="6" stroke-opacity="0.8" filter="url(#gn)"/>
<g filter="url(#soft)">
<path d="M149.7,572.2 L150.6,568.9 L151.8,565.6 L153.2,562.5 L154.8,559.4 L156.6,556.5 L158.6,553.7 L160.7,551.0 L163.0,548.4 L165.4,545.9 L167.8,543.5 L170.3,541.1 L172.9,538.8 L175.5,536.5 L178.1,534.3 L180.7,532.1 L183.3,529.8 L185.9,527.5 L188.5,525.2 L191.0,522.9 L193.6,520.5 L196.0,518.2 L198.5,515.8 L201.0,513.3 L203.4,510.9 L205.8,508.4 L208.2,505.9 L210.5,503.4 L212.9,500.9 L215.3,498.4 L217.6,495.9 L220.0,493.4 L222.3,490.8 L224.7,488.3 L227.1,485.9 L229.5,483.4 L231.9,480.9 L234.4,478.5 L236.8,476.1 L239.3,473.7 L241.9,471.4 L244.4,469.0 L247.0,466.7 L249.5,464.4 L252.1,462.2 L254.7,459.9 L257.4,457.7 L260.0,455.5 L262.7,453.3 L265.3,451.1 L268.0,448.9 L270.7,446.7 L273.4,444.6 L276.1,442.4 L278.8,440.3 L281.5,438.2 L284.2,436.1 L286.9,433.9 L289.6,431.8 L292.4,429.7 L295.1,427.6 L297.8,425.5 L300.5,423.3 L303.2,421.2 L306.0,419.1 L308.7,417.0 L311.4,414.9 L314.2,412.8 L316.9,410.7 L319.6,408.6 L322.4,406.5 L325.1,404.5 L327.9,402.4 L330.7,400.3 L333.4,398.3 L336.2,396.2 L339.0,394.2 L341.7,392.1 L344.5,390.1 L347.3,388.1 L350.1,386.1 L352.9,384.1 L355.7,382.1 L358.6,380.1 L361.4,378.1 L364.2,376.1 L367.0,374.2 L369.9,372.2 L372.7,370.3 L375.6,368.3 L378.4,366.4 L381.3,364.5 L384.1,362.5 L387.0,360.6 L389.9,358.7 L392.7,356.8 L395.6,354.9 L398.5,353.0 L401.3,351.0 L404.2,349.1 L407.1,347.2 L409.9,345.3 L412.8,343.4 L415.7,341.5 L418.6,339.6 L421.4,337.7 L424.3,335.8 L427.2,333.9 L430.0,331.9 L432.9,330.0 L435.8,328.1 L438.6,326.2 L441.5,324.2 L444.3,322.3 L447.2,320.4 L450.0,318.4 L452.8,316.4 L455.7,314.5 L458.5,312.5 L461.3,310.5 L464.1,308.5 L466.9,306.5 L469.7,304.5 L472.5,302.5 L475.3,300.5 L478.1,298.4 L480.9,296.4 L483.7,294.4 L486.5,292.3 L489.3,290.3 L492.0,288.3 L494.9,286.3 L497.7,284.3 L500.5,282.3 L503.3,280.4 L506.2,278.5 L509.1,276.6 L512.0,274.7 L514.9,272.8 L517.8,271.0 L520.8,269.2 L523.7,267.5 L526.7,265.8 L529.8,264.2 L532.8,262.6 L535.9,261.0 L539.0,259.5 L542.1,258.0 L545.2,256.5 L548.3,255.1 L551.5,253.7 L554.6,252.3 L557.8,250.8 L560.9,249.4 L564.1,248.0 L567.2,246.6 L570.3,245.1 L573.4,243.7 L576.6,242.2 L579.7,240.7 L582.7,239.1 L585.8,237.5 L588.8,235.9 L591.8,234.2 L594.8,232.4 L597.7,230.6 L600.6,228.8 L603.5,226.9 L606.3,224.9 L609.2,222.9 L612.0,220.9 L614.8,218.9 L617.5,216.8 L620.3,214.8 L623.0,212.7 L625.8,210.6 L628.5,208.5 L631.2,206.4 L634.0,204.3 L636.7,202.2 L639.5,200.1 L642.2,198.1 L645.0,196.0 L647.8,194.0 L650.6,192.0 L653.4,190.1 L656.3,188.1 L659.2,186.2 L662.1,184.4 L665.0,182.5 L668.0,180.8 L670.9,179.0 L674.0,177.4 L677.0,175.8 L680.1,174.3 L683.2,172.8 L686.4,171.4 L689.6,170.1 L692.8,168.8 L696.0,167.6 L699.2,166.4 L702.5,165.3 L705.7,164.2 L709.0,163.1 L712.3,162.0 L715.6,161.0 L718.9,159.9 L722.2,158.9 L725.5,157.9 L728.7,156.8 L732.0,155.7 L735.3,154.6 L738.5,153.5 L741.8,152.4 L745.0,151.1 L748.2,149.9 L751.4,148.6 L754.6,147.2 L757.7,145.8 L760.8,144.3 L763.9,142.8 L767.0,141.2 L770.0,139.6 L773.1,138.0 L776.1,136.4 L779.2,134.8 L782.2,133.2 L785.3,131.6 L788.4,130.1 L791.5,128.6 L794.6,127.1 L797.8,125.7 L801.0,124.4 L804.2,123.2 L807.4,122.0 L810.7,120.9 L814.0,119.9 L817.3,119.0 L820.7,118.1 L824.0,117.3 L827.4,116.6 L830.8,115.9 L834.1,115.3 L837.6,114.8 L841.0,114.3 L844.4,113.8 L847.8,113.4 L851.2,113.0 L854.7,112.7 L858.1,112.4 L861.5,112.1 L865.0,111.9 L868.4,111.7 L871.8,111.5 L875.3,111.3 L878.7,111.1 L882.2,111.0 L885.6,110.9 L889.1,110.8 L892.5,110.7 L896.0,110.5 L899.4,110.4 L902.9,110.3 L906.3,110.2 L909.7,110.1 L913.2,110.0 L916.6,109.9 L920.1,109.9 L923.5,109.9 L927.0,110.1 L930.4,110.3 L933.8,110.6 L937.3,111.1 L940.6,111.8 L944.0,112.6 L947.3,113.6 L950.5,114.8 L953.6,116.3 L956.7,117.9 L959.6,119.7 L962.4,121.7 L965.1,123.8 L967.7,126.1 L970.1,128.6 L972.3,131.2 L974.4,134.0 L976.2,136.9 L977.9,139.9 L979.4,143.0 L980.7,146.2 L981.8,149.5 L982.8,152.8 L983.6,156.1 L984.3,159.5 L985.0,162.9 L985.5,166.3 L986.0,169.7 L986.4,173.1 L986.7,176.6 L987.0,180.0" fill="none" stroke="#b42626" stroke-width="3.4" stroke-opacity="0.85"/>
<path d="M149.7,572.2 L150.6,568.9 L151.8,565.6 L153.2,562.5 L154.8,559.4 L156.6,556.5 L158.6,553.7 L160.7,551.0 L163.0,548.4 L165.4,545.9 L167.8,543.5 L170.3,541.1 L172.9,538.8 L175.5,536.5 L178.1,534.3 L180.7,532.1 L183.3,529.8 L185.9,527.5 L188.5,525.2 L191.0,522.9 L193.6,520.5 L196.0,518.2 L198.5,515.8 L201.0,513.3 L203.4,510.9 L205.8,508.4 L208.2,505.9 L210.5,503.4 L212.9,500.9 L215.3,498.4 L217.6,495.9 L220.0,493.4 L222.3,490.8 L224.7,488.3 L227.1,485.9 L229.5,483.4 L231.9,480.9 L234.4,478.5 L236.8,476.1 L239.3,473.7 L241.9,471.4 L244.4,469.0 L247.0,466.7 L249.5,464.4 L252.1,462.2 L254.7,459.9 L257.4,457.7 L260.0,455.5 L262.7,453.3 L265.3,451.1 L268.0,448.9 L270.7,446.7 L273.4,444.6 L276.1,442.4 L278.8,440.3 L281.5,438.2 L284.2,436.1 L286.9,433.9 L289.6,431.8 L292.4,429.7 L295.1,427.6 L297.8,425.5 L300.5,423.3 L303.2,421.2 L306.0,419.1 L308.7,417.0 L311.4,414.9 L314.2,412.8 L316.9,410.7 L319.6,408.6 L322.4,406.5 L325.1,404.5 L327.9,402.4 L330.7,400.3 L333.4,398.3 L336.2,396.2 L339.0,394.2 L341.7,392.1 L344.5,390.1 L347.3,388.1 L350.1,386.1 L352.9,384.1 L355.7,382.1 L358.6,380.1 L361.4,378.1 L364.2,376.1 L367.0,374.2 L369.9,372.2 L372.7,370.3 L375.6,368.3 L378.4,366.4 L381.3,364.5 L384.1,362.5 L387.0,360.6 L389.9,358.7 L392.7,356.8 L395.6,354.9 L398.5,353.0 L401.3,351.0 L404.2,349.1 L407.1,347.2 L409.9,345.3 L412.8,343.4 L415.7,341.5 L418.6,339.6 L421.4,337.7 L424.3,335.8 L427.2,333.9 L430.0,331.9 L432.9,330.0 L435.8,328.1 L438.6,326.2 L441.5,324.2 L444.3,322.3 L447.2,320.4 L450.0,318.4 L452.8,316.4 L455.7,314.5 L458.5,312.5 L461.3,310.5 L464.1,308.5 L466.9,306.5 L469.7,304.5 L472.5,302.5 L475.3,300.5 L478.1,298.4 L480.9,296.4 L483.7,294.4 L486.5,292.3 L489.3,290.3 L492.0,288.3 L494.9,286.3 L497.7,284.3 L500.5,282.3 L503.3,280.4 L506.2,278.5 L509.1,276.6 L512.0,274.7 L514.9,272.8 L517.8,271.0 L520.8,269.2 L523.7,267.5 L526.7,265.8 L529.8,264.2 L532.8,262.6 L535.9,261.0 L539.0,259.5 L542.1,258.0 L545.2,256.5 L548.3,255.1 L551.5,253.7 L554.6,252.3 L557.8,250.8 L560.9,249.4 L564.1,248.0 L567.2,246.6 L570.3,245.1 L573.4,243.7 L576.6,242.2 L579.7,240.7 L582.7,239.1 L585.8,237.5 L588.8,235.9 L591.8,234.2 L594.8,232.4 L597.7,230.6 L600.6,228.8 L603.5,226.9 L606.3,224.9 L609.2,222.9 L612.0,220.9 L614.8,218.9 L617.5,216.8 L620.3,214.8 L623.0,212.7 L625.8,210.6 L628.5,208.5 L631.2,206.4 L634.0,204.3 L636.7,202.2 L639.5,200.1 L642.2,198.1 L645.0,196.0 L647.8,194.0 L650.6,192.0 L653.4,190.1 L656.3,188.1 L659.2,186.2 L662.1,184.4 L665.0,182.5 L668.0,180.8 L670.9,179.0 L674.0,177.4 L677.0,175.8 L680.1,174.3 L683.2,172.8 L686.4,171.4 L689.6,170.1 L692.8,168.8 L696.0,167.6 L699.2,166.4 L702.5,165.3 L705.7,164.2 L709.0,163.1 L712.3,162.0 L715.6,161.0 L718.9,159.9 L722.2,158.9 L725.5,157.9 L728.7,156.8 L732.0,155.7 L735.3,154.6 L738.5,153.5 L741.8,152.4 L745.0,151.1 L748.2,149.9 L751.4,148.6 L754.6,147.2 L757.7,145.8 L760.8,144.3 L763.9,142.8 L767.0,141.2 L770.0,139.6 L773.1,138.0 L776.1,136.4 L779.2,134.8 L782.2,133.2 L785.3,131.6 L788.4,130.1 L791.5,128.6 L794.6,127.1 L797.8,125.7 L801.0,124.4 L804.2,123.2 L807.4,122.0 L810.7,120.9 L814.0,119.9 L817.3,119.0 L820.7,118.1 L824.0,117.3 L827.4,116.6 L830.8,115.9 L834.1,115.3 L837.6,114.8 L841.0,114.3 L844.4,113.8 L847.8,113.4 L851.2,113.0 L854.7,112.7 L858.1,112.4 L861.5,112.1 L865.0,111.9 L868.4,111.7 L871.8,111.5 L875.3,111.3 L878.7,111.1 L882.2,111.0 L885.6,110.9 L889.1,110.8 L892.5,110.7 L896.0,110.5 L899.4,110.4 L902.9,110.3 L906.3,110.2 L909.7,110.1 L913.2,110.0 L916.6,109.9 L920.1,109.9 L923.5,109.9 L927.0,110.1 L930.4,110.3 L933.8,110.6 L937.3,111.1 L940.6,111.8 L944.0,112.6 L947.3,113.6 L950.5,114.8 L953.6,116.3 L956.7,117.9 L959.6,119.7 L962.4,121.7 L965.1,123.8 L967.7,126.1 L970.1,128.6 L972.3,131.2 L974.4,134.0 L976.2,136.9 L977.9,139.9 L979.4,143.0 L980.7,146.2 L981.8,149.5 L982.8,152.8 L983.6,156.1 L984.3,159.5 L985.0,162.9 L985.5,166.3 L986.0,169.7 L986.4,173.1 L986.7,176.6 L987.0,180.0" fill="none" stroke="#f27868" stroke-width="1.3" stroke-opacity="0.9"/>
</g>
<circle cx="180.7" cy="532.1" r="1.15" fill="#ffb4a8" fill-opacity="0.5"/>
<circle cx="234.4" cy="478.5" r="1.15" fill="#ffb4a8" fill-opacity="0.5"/>
<circle cx="289.6" cy="431.8" r="1.15" fill="#ffb4a8" fill-opacity="0.5"/>
<circle cx="333.4" cy="398.3" r="1.15" fill="#ffb4a8" fill-opacity="0.5"/>
<circle cx="404.2" cy="349.1" r="1.15" fill="#ffb4a8" fill-opacity="0.5"/>
<circle cx="472.5" cy="302.5" r="1.15" fill="#ffb4a8" fill-opacity="0.5"/>
<circle cx="509.1" cy="276.6" r="1.15" fill="#ffb4a8" fill-opacity="0.5"/>
<circle cx="570.3" cy="245.1" r="1.15" fill="#ffb4a8" fill-opacity="0.5"/>
<circle cx="591.8" cy="234.2" r="1.15" fill="#ffb4a8" fill-opacity="0.5"/>
<circle cx="617.5" cy="216.8" r="1.15" fill="#ffb4a8" fill-opacity="0.5"/>
<circle cx="659.2" cy="186.2" r="1.15" fill="#ffb4a8" fill-opacity="0.5"/>
<circle cx="715.6" cy="161.0" r="1.15" fill="#ffb4a8" fill-opacity="0.5"/>
<circle cx="754.6" cy="147.2" r="1.15" fill="#ffb4a8" fill-opacity="0.5"/>
<circle cx="773.1" cy="138.0" r="1.15" fill="#ffb4a8" fill-opacity="0.5"/>
<circle cx="841.0" cy="114.3" r="1.15" fill="#ffb4a8" fill-opacity="0.5"/>
<circle cx="902.9" cy="110.3" r="1.15" fill="#ffb4a8" fill-opacity="0.5"/>
<circle cx="930.4" cy="110.3" r="1.15" fill="#ffb4a8" fill-opacity="0.5"/>
<circle cx="953.6" cy="116.3" r="1.15" fill="#ffb4a8" fill-opacity="0.5"/>
<circle cx="976.2" cy="136.9" r="1.15" fill="#ffb4a8" fill-opacity="0.5"/>
<circle cx="985.0" cy="162.9" r="1.15" fill="#ffb4a8" fill-opacity="0.5"/>
<circle cx="987.0" cy="180.0" r="1.15" fill="#ffb4a8" fill-opacity="0.5"/>
<path d="M149.6,347.0 L151.0,344.1 L152.4,341.3 L154.0,338.5 L155.5,335.7 L157.1,333.0 L158.7,330.2 L160.4,327.5 L162.1,324.8 L163.8,322.1 L165.6,319.5 L167.3,316.8 L169.1,314.1 L170.8,311.5 L172.6,308.8 L174.3,306.1 L176.0,303.5 L177.7,300.8 L179.4,298.1 L181.1,295.4 L182.7,292.6 L184.4,289.9 L186.0,287.2 L187.7,284.4 L189.3,281.7 L191.0,279.0 L192.7,276.3 L194.4,273.6 L196.1,270.9 L197.9,268.3 L199.7,265.7 L201.6,263.1 L203.5,260.6 L205.5,258.1 L207.6,255.7 L209.7,253.3 L211.9,250.9 L214.1,248.7 L216.4,246.4 L218.7,244.3 L221.1,242.2 L223.5,240.1 L226.0,238.1 L228.5,236.2 L231.1,234.3 L233.7,232.5 L236.4,230.7 L239.1,229.0 L241.8,227.4 L244.6,225.9 L247.4,224.4 L250.3,222.9 L253.1,221.5 L256.0,220.2 L259.0,219.0 L261.9,217.8 L264.9,216.7 L267.9,215.7 L271.0,214.8 L274.0,213.9 L277.1,213.1 L280.2,212.3 L283.3,211.6 L286.4,210.9 L289.6,210.3 L292.7,209.8 L295.8,209.2 L299.0,208.7 L302.1,208.3 L305.3,207.8 L308.5,207.4 L311.6,207.0 L314.8,206.6 L317.9,206.2 L321.1,205.8 L324.3,205.4 L327.4,205.1 L330.6,204.7 L333.8,204.4 L336.9,204.1 L340.1,203.8 L343.3,203.5 L346.4,203.2 L349.6,202.9 L352.8,202.6 L356.0,202.3 L359.1,202.1 L362.3,201.8 L365.5,201.6 L368.7,201.3 L371.9,201.1 L375.0,200.9 L378.2,200.7 L381.4,200.5 L384.6,200.3 L387.7,200.1 L390.9,199.9 L394.1,199.8 L397.3,199.6 L400.5,199.5 L403.7,199.3 L406.8,199.2 L410.0,199.0 L413.2,198.9 L416.4,198.8 L419.6,198.7 L422.8,198.5 L425.9,198.4 L429.1,198.3 L432.3,198.2 L435.5,198.2 L438.7,198.1 L441.9,198.0 L445.0,197.9 L448.2,197.8 L451.4,197.8 L454.6,197.7 L457.8,197.6 L461.0,197.6 L464.2,197.5 L467.3,197.5 L470.5,197.4 L473.7,197.4 L476.9,197.4 L480.1,197.3 L483.3,197.3 L486.5,197.3 L489.6,197.3 L492.8,197.3 L496.0,197.3 L499.2,197.3 L502.4,197.3 L505.6,197.3 L508.8,197.3 L511.9,197.3 L515.1,197.3 L518.3,197.4 L521.5,197.4 L524.7,197.5 L527.9,197.5 L531.1,197.6 L534.2,197.6 L537.4,197.7 L540.6,197.8 L543.8,197.9 L547.0,197.9 L550.2,198.0 L553.3,198.1 L556.5,198.2 L559.7,198.4 L562.9,198.5 L566.1,198.6 L569.3,198.7 L572.4,198.9 L575.6,199.0 L578.8,199.2 L582.0,199.3 L585.2,199.5 L588.4,199.7 L591.5,199.8 L594.7,200.0 L597.9,200.2 L601.1,200.4 L604.3,200.6 L607.4,200.9 L610.6,201.1 L613.8,201.3 L617.0,201.6 L620.1,201.8 L623.3,202.1 L626.5,202.4 L629.7,202.6 L632.8,202.9 L636.0,203.2 L639.2,203.5 L642.4,203.8 L645.5,204.1 L648.7,204.5 L651.9,204.8 L655.0,205.2 L658.2,205.5 L661.4,205.9 L664.5,206.3 L667.7,206.7 L670.8,207.1 L674.0,207.5 L677.2,207.9 L680.3,208.3 L683.5,208.8 L686.6,209.2 L689.8,209.7 L692.9,210.1 L696.1,210.6 L699.2,211.1 L702.4,211.6 L705.5,212.1 L708.7,212.6 L711.8,213.2 L714.9,213.7 L718.1,214.3 L721.2,214.9 L724.3,215.5 L727.5,216.0 L730.6,216.7 L733.7,217.3 L736.8,217.9 L740.0,218.5 L743.1,219.2 L746.2,219.9 L749.3,220.6 L752.4,221.2 L755.5,222.0 L758.6,222.7 L761.7,223.4 L764.8,224.2 L767.9,224.9 L771.0,225.7 L774.1,226.5 L777.2,227.3 L780.3,228.1 L783.3,228.9 L786.4,229.8 L789.5,230.7 L792.5,231.6 L795.6,232.5 L798.6,233.4 L801.7,234.4 L804.7,235.3 L807.7,236.3 L810.7,237.4 L813.7,238.4 L816.7,239.5 L819.7,240.6 L822.7,241.7 L825.7,242.8 L828.7,244.0 L831.6,245.1 L834.6,246.2 L837.6,247.3 L840.6,248.4 L843.7,249.3 L846.7,250.3 L849.8,251.1 L852.9,251.9 L855.9,252.7 L859.0,253.4 L862.1,254.2 L865.2,254.9 L868.4,255.6 L871.4,256.3 L874.5,257.1 L877.6,257.9 L880.7,258.7 L883.8,259.5 L886.9,260.4 L889.9,261.2 L893.0,262.1 L896.1,262.9 L899.1,263.8 L902.2,264.6 L905.3,265.5 L908.4,266.3 L911.4,267.1 L914.5,267.9 L917.6,268.7 L920.7,269.4 L923.8,270.1 L927.0,270.7 L930.1,271.3 L933.2,271.9 L936.3,272.5 L939.5,273.2 L942.6,273.9 L945.6,274.8 L948.7,275.7 L951.6,276.9 L954.5,278.3 L957.3,279.8 L959.9,281.7 L962.3,283.7 L964.6,286.0 L966.7,288.4 L968.6,290.9 L970.4,293.5 L972.1,296.2 L973.6,299.0 L975.0,301.9 L976.4,304.8 L977.7,307.7 L978.8,310.6 L980.0,313.6 L981.0,316.6 L982.1,319.6 L983.0,322.7 L984.0,325.7 L985.0,328.7 L985.9,331.8 L986.8,334.8 L987.8,337.9 L988.8,340.9" fill="none" stroke="#b01c1c" stroke-width="13" stroke-opacity="0.5" filter="url(#gw)"/>
<path d="M149.6,347.0 L151.0,344.1 L152.4,341.3 L154.0,338.5 L155.5,335.7 L157.1,333.0 L158.7,330.2 L160.4,327.5 L162.1,324.8 L163.8,322.1 L165.6,319.5 L167.3,316.8 L169.1,314.1 L170.8,311.5 L172.6,308.8 L174.3,306.1 L176.0,303.5 L177.7,300.8 L179.4,298.1 L181.1,295.4 L182.7,292.6 L184.4,289.9 L186.0,287.2 L187.7,284.4 L189.3,281.7 L191.0,279.0 L192.7,276.3 L194.4,273.6 L196.1,270.9 L197.9,268.3 L199.7,265.7 L201.6,263.1 L203.5,260.6 L205.5,258.1 L207.6,255.7 L209.7,253.3 L211.9,250.9 L214.1,248.7 L216.4,246.4 L218.7,244.3 L221.1,242.2 L223.5,240.1 L226.0,238.1 L228.5,236.2 L231.1,234.3 L233.7,232.5 L236.4,230.7 L239.1,229.0 L241.8,227.4 L244.6,225.9 L247.4,224.4 L250.3,222.9 L253.1,221.5 L256.0,220.2 L259.0,219.0 L261.9,217.8 L264.9,216.7 L267.9,215.7 L271.0,214.8 L274.0,213.9 L277.1,213.1 L280.2,212.3 L283.3,211.6 L286.4,210.9 L289.6,210.3 L292.7,209.8 L295.8,209.2 L299.0,208.7 L302.1,208.3 L305.3,207.8 L308.5,207.4 L311.6,207.0 L314.8,206.6 L317.9,206.2 L321.1,205.8 L324.3,205.4 L327.4,205.1 L330.6,204.7 L333.8,204.4 L336.9,204.1 L340.1,203.8 L343.3,203.5 L346.4,203.2 L349.6,202.9 L352.8,202.6 L356.0,202.3 L359.1,202.1 L362.3,201.8 L365.5,201.6 L368.7,201.3 L371.9,201.1 L375.0,200.9 L378.2,200.7 L381.4,200.5 L384.6,200.3 L387.7,200.1 L390.9,199.9 L394.1,199.8 L397.3,199.6 L400.5,199.5 L403.7,199.3 L406.8,199.2 L410.0,199.0 L413.2,198.9 L416.4,198.8 L419.6,198.7 L422.8,198.5 L425.9,198.4 L429.1,198.3 L432.3,198.2 L435.5,198.2 L438.7,198.1 L441.9,198.0 L445.0,197.9 L448.2,197.8 L451.4,197.8 L454.6,197.7 L457.8,197.6 L461.0,197.6 L464.2,197.5 L467.3,197.5 L470.5,197.4 L473.7,197.4 L476.9,197.4 L480.1,197.3 L483.3,197.3 L486.5,197.3 L489.6,197.3 L492.8,197.3 L496.0,197.3 L499.2,197.3 L502.4,197.3 L505.6,197.3 L508.8,197.3 L511.9,197.3 L515.1,197.3 L518.3,197.4 L521.5,197.4 L524.7,197.5 L527.9,197.5 L531.1,197.6 L534.2,197.6 L537.4,197.7 L540.6,197.8 L543.8,197.9 L547.0,197.9 L550.2,198.0 L553.3,198.1 L556.5,198.2 L559.7,198.4 L562.9,198.5 L566.1,198.6 L569.3,198.7 L572.4,198.9 L575.6,199.0 L578.8,199.2 L582.0,199.3 L585.2,199.5 L588.4,199.7 L591.5,199.8 L594.7,200.0 L597.9,200.2 L601.1,200.4 L604.3,200.6 L607.4,200.9 L610.6,201.1 L613.8,201.3 L617.0,201.6 L620.1,201.8 L623.3,202.1 L626.5,202.4 L629.7,202.6 L632.8,202.9 L636.0,203.2 L639.2,203.5 L642.4,203.8 L645.5,204.1 L648.7,204.5 L651.9,204.8 L655.0,205.2 L658.2,205.5 L661.4,205.9 L664.5,206.3 L667.7,206.7 L670.8,207.1 L674.0,207.5 L677.2,207.9 L680.3,208.3 L683.5,208.8 L686.6,209.2 L689.8,209.7 L692.9,210.1 L696.1,210.6 L699.2,211.1 L702.4,211.6 L705.5,212.1 L708.7,212.6 L711.8,213.2 L714.9,213.7 L718.1,214.3 L721.2,214.9 L724.3,215.5 L727.5,216.0 L730.6,216.7 L733.7,217.3 L736.8,217.9 L740.0,218.5 L743.1,219.2 L746.2,219.9 L749.3,220.6 L752.4,221.2 L755.5,222.0 L758.6,222.7 L761.7,223.4 L764.8,224.2 L767.9,224.9 L771.0,225.7 L774.1,226.5 L777.2,227.3 L780.3,228.1 L783.3,228.9 L786.4,229.8 L789.5,230.7 L792.5,231.6 L795.6,232.5 L798.6,233.4 L801.7,234.4 L804.7,235.3 L807.7,236.3 L810.7,237.4 L813.7,238.4 L816.7,239.5 L819.7,240.6 L822.7,241.7 L825.7,242.8 L828.7,244.0 L831.6,245.1 L834.6,246.2 L837.6,247.3 L840.6,248.4 L843.7,249.3 L846.7,250.3 L849.8,251.1 L852.9,251.9 L855.9,252.7 L859.0,253.4 L862.1,254.2 L865.2,254.9 L868.4,255.6 L871.4,256.3 L874.5,257.1 L877.6,257.9 L880.7,258.7 L883.8,259.5 L886.9,260.4 L889.9,261.2 L893.0,262.1 L896.1,262.9 L899.1,263.8 L902.2,264.6 L905.3,265.5 L908.4,266.3 L911.4,267.1 L914.5,267.9 L917.6,268.7 L920.7,269.4 L923.8,270.1 L927.0,270.7 L930.1,271.3 L933.2,271.9 L936.3,272.5 L939.5,273.2 L942.6,273.9 L945.6,274.8 L948.7,275.7 L951.6,276.9 L954.5,278.3 L957.3,279.8 L959.9,281.7 L962.3,283.7 L964.6,286.0 L966.7,288.4 L968.6,290.9 L970.4,293.5 L972.1,296.2 L973.6,299.0 L975.0,301.9 L976.4,304.8 L977.7,307.7 L978.8,310.6 L980.0,313.6 L981.0,316.6 L982.1,319.6 L983.0,322.7 L984.0,325.7 L985.0,328.7 L985.9,331.8 L986.8,334.8 L987.8,337.9 L988.8,340.9" fill="none" stroke="#b41e1e" stroke-width="6" stroke-opacity="0.8" filter="url(#gn)"/>
<g filter="url(#soft)">
<path d="M149.6,347.0 L151.0,344.1 L152.4,341.3 L154.0,338.5 L155.5,335.7 L157.1,333.0 L158.7,330.2 L160.4,327.5 L162.1,324.8 L163.8,322.1 L165.6,319.5 L167.3,316.8 L169.1,314.1 L170.8,311.5 L172.6,308.8 L174.3,306.1 L176.0,303.5 L177.7,300.8 L179.4,298.1 L181.1,295.4 L182.7,292.6 L184.4,289.9 L186.0,287.2 L187.7,284.4 L189.3,281.7 L191.0,279.0 L192.7,276.3 L194.4,273.6 L196.1,270.9 L197.9,268.3 L199.7,265.7 L201.6,263.1 L203.5,260.6 L205.5,258.1 L207.6,255.7 L209.7,253.3 L211.9,250.9 L214.1,248.7 L216.4,246.4 L218.7,244.3 L221.1,242.2 L223.5,240.1 L226.0,238.1 L228.5,236.2 L231.1,234.3 L233.7,232.5 L236.4,230.7 L239.1,229.0 L241.8,227.4 L244.6,225.9 L247.4,224.4 L250.3,222.9 L253.1,221.5 L256.0,220.2 L259.0,219.0 L261.9,217.8 L264.9,216.7 L267.9,215.7 L271.0,214.8 L274.0,213.9 L277.1,213.1 L280.2,212.3 L283.3,211.6 L286.4,210.9 L289.6,210.3 L292.7,209.8 L295.8,209.2 L299.0,208.7 L302.1,208.3 L305.3,207.8 L308.5,207.4 L311.6,207.0 L314.8,206.6 L317.9,206.2 L321.1,205.8 L324.3,205.4 L327.4,205.1 L330.6,204.7 L333.8,204.4 L336.9,204.1 L340.1,203.8 L343.3,203.5 L346.4,203.2 L349.6,202.9 L352.8,202.6 L356.0,202.3 L359.1,202.1 L362.3,201.8 L365.5,201.6 L368.7,201.3 L371.9,201.1 L375.0,200.9 L378.2,200.7 L381.4,200.5 L384.6,200.3 L387.7,200.1 L390.9,199.9 L394.1,199.8 L397.3,199.6 L400.5,199.5 L403.7,199.3 L406.8,199.2 L410.0,199.0 L413.2,198.9 L416.4,198.8 L419.6,198.7 L422.8,198.5 L425.9,198.4 L429.1,198.3 L432.3,198.2 L435.5,198.2 L438.7,198.1 L441.9,198.0 L445.0,197.9 L448.2,197.8 L451.4,197.8 L454.6,197.7 L457.8,197.6 L461.0,197.6 L464.2,197.5 L467.3,197.5 L470.5,197.4 L473.7,197.4 L476.9,197.4 L480.1,197.3 L483.3,197.3 L486.5,197.3 L489.6,197.3 L492.8,197.3 L496.0,197.3 L499.2,197.3 L502.4,197.3 L505.6,197.3 L508.8,197.3 L511.9,197.3 L515.1,197.3 L518.3,197.4 L521.5,197.4 L524.7,197.5 L527.9,197.5 L531.1,197.6 L534.2,197.6 L537.4,197.7 L540.6,197.8 L543.8,197.9 L547.0,197.9 L550.2,198.0 L553.3,198.1 L556.5,198.2 L559.7,198.4 L562.9,198.5 L566.1,198.6 L569.3,198.7 L572.4,198.9 L575.6,199.0 L578.8,199.2 L582.0,199.3 L585.2,199.5 L588.4,199.7 L591.5,199.8 L594.7,200.0 L597.9,200.2 L601.1,200.4 L604.3,200.6 L607.4,200.9 L610.6,201.1 L613.8,201.3 L617.0,201.6 L620.1,201.8 L623.3,202.1 L626.5,202.4 L629.7,202.6 L632.8,202.9 L636.0,203.2 L639.2,203.5 L642.4,203.8 L645.5,204.1 L648.7,204.5 L651.9,204.8 L655.0,205.2 L658.2,205.5 L661.4,205.9 L664.5,206.3 L667.7,206.7 L670.8,207.1 L674.0,207.5 L677.2,207.9 L680.3,208.3 L683.5,208.8 L686.6,209.2 L689.8,209.7 L692.9,210.1 L696.1,210.6 L699.2,211.1 L702.4,211.6 L705.5,212.1 L708.7,212.6 L711.8,213.2 L714.9,213.7 L718.1,214.3 L721.2,214.9 L724.3,215.5 L727.5,216.0 L730.6,216.7 L733.7,217.3 L736.8,217.9 L740.0,218.5 L743.1,219.2 L746.2,219.9 L749.3,220.6 L752.4,221.2 L755.5,222.0 L758.6,222.7 L761.7,223.4 L764.8,224.2 L767.9,224.9 L771.0,225.7 L774.1,226.5 L777.2,227.3 L780.3,228.1 L783.3,228.9 L786.4,229.8 L789.5,230.7 L792.5,231.6 L795.6,232.5 L798.6,233.4 L801.7,234.4 L804.7,235.3 L807.7,236.3 L810.7,237.4 L813.7,238.4 L816.7,239.5 L819.7,240.6 L822.7,241.7 L825.7,242.8 L828.7,244.0 L831.6,245.1 L834.6,246.2 L837.6,247.3 L840.6,248.4 L843.7,249.3 L846.7,250.3 L849.8,251.1 L852.9,251.9 L855.9,252.7 L859.0,253.4 L862.1,254.2 L865.2,254.9 L868.4,255.6 L871.4,256.3 L874.5,257.1 L877.6,257.9 L880.7,258.7 L883.8,259.5 L886.9,260.4 L889.9,261.2 L893.0,262.1 L896.1,262.9 L899.1,263.8 L902.2,264.6 L905.3,265.5 L908.4,266.3 L911.4,267.1 L914.5,267.9 L917.6,268.7 L920.7,269.4 L923.8,270.1 L927.0,270.7 L930.1,271.3 L933.2,271.9 L936.3,272.5 L939.5,273.2 L942.6,273.9 L945.6,274.8 L948.7,275.7 L951.6,276.9 L954.5,278.3 L957.3,279.8 L959.9,281.7 L962.3,283.7 L964.6,286.0 L966.7,288.4 L968.6,290.9 L970.4,293.5 L972.1,296.2 L973.6,299.0 L975.0,301.9 L976.4,304.8 L977.7,307.7 L978.8,310.6 L980.0,313.6 L981.0,316.6 L982.1,319.6 L983.0,322.7 L984.0,325.7 L985.0,328.7 L985.9,331.8 L986.8,334.8 L987.8,337.9 L988.8,340.9" fill="none" stroke="#b42626" stroke-width="3.4" stroke-opacity="0.85"/>
<path d="M149.6,347.0 L151.0,344.1 L152.4,341.3 L154.0,338.5 L155.5,335.7 L157.1,333.0 L158.7,330.2 L160.4,327.5 L162.1,324.8 L163.8,322.1 L165.6,319.5 L167.3,316.8 L169.1,314.1 L170.8,311.5 L172.6,308.8 L174.3,306.1 L176.0,303.5 L177.7,300.8 L179.4,298.1 L181.1,295.4 L182.7,292.6 L184.4,289.9 L186.0,287.2 L187.7,284.4 L189.3,281.7 L191.0,279.0 L192.7,276.3 L194.4,273.6 L196.1,270.9 L197.9,268.3 L199.7,265.7 L201.6,263.1 L203.5,260.6 L205.5,258.1 L207.6,255.7 L209.7,253.3 L211.9,250.9 L214.1,248.7 L216.4,246.4 L218.7,244.3 L221.1,242.2 L223.5,240.1 L226.0,238.1 L228.5,236.2 L231.1,234.3 L233.7,232.5 L236.4,230.7 L239.1,229.0 L241.8,227.4 L244.6,225.9 L247.4,224.4 L250.3,222.9 L253.1,221.5 L256.0,220.2 L259.0,219.0 L261.9,217.8 L264.9,216.7 L267.9,215.7 L271.0,214.8 L274.0,213.9 L277.1,213.1 L280.2,212.3 L283.3,211.6 L286.4,210.9 L289.6,210.3 L292.7,209.8 L295.8,209.2 L299.0,208.7 L302.1,208.3 L305.3,207.8 L308.5,207.4 L311.6,207.0 L314.8,206.6 L317.9,206.2 L321.1,205.8 L324.3,205.4 L327.4,205.1 L330.6,204.7 L333.8,204.4 L336.9,204.1 L340.1,203.8 L343.3,203.5 L346.4,203.2 L349.6,202.9 L352.8,202.6 L356.0,202.3 L359.1,202.1 L362.3,201.8 L365.5,201.6 L368.7,201.3 L371.9,201.1 L375.0,200.9 L378.2,200.7 L381.4,200.5 L384.6,200.3 L387.7,200.1 L390.9,199.9 L394.1,199.8 L397.3,199.6 L400.5,199.5 L403.7,199.3 L406.8,199.2 L410.0,199.0 L413.2,198.9 L416.4,198.8 L419.6,198.7 L422.8,198.5 L425.9,198.4 L429.1,198.3 L432.3,198.2 L435.5,198.2 L438.7,198.1 L441.9,198.0 L445.0,197.9 L448.2,197.8 L451.4,197.8 L454.6,197.7 L457.8,197.6 L461.0,197.6 L464.2,197.5 L467.3,197.5 L470.5,197.4 L473.7,197.4 L476.9,197.4 L480.1,197.3 L483.3,197.3 L486.5,197.3 L489.6,197.3 L492.8,197.3 L496.0,197.3 L499.2,197.3 L502.4,197.3 L505.6,197.3 L508.8,197.3 L511.9,197.3 L515.1,197.3 L518.3,197.4 L521.5,197.4 L524.7,197.5 L527.9,197.5 L531.1,197.6 L534.2,197.6 L537.4,197.7 L540.6,197.8 L543.8,197.9 L547.0,197.9 L550.2,198.0 L553.3,198.1 L556.5,198.2 L559.7,198.4 L562.9,198.5 L566.1,198.6 L569.3,198.7 L572.4,198.9 L575.6,199.0 L578.8,199.2 L582.0,199.3 L585.2,199.5 L588.4,199.7 L591.5,199.8 L594.7,200.0 L597.9,200.2 L601.1,200.4 L604.3,200.6 L607.4,200.9 L610.6,201.1 L613.8,201.3 L617.0,201.6 L620.1,201.8 L623.3,202.1 L626.5,202.4 L629.7,202.6 L632.8,202.9 L636.0,203.2 L639.2,203.5 L642.4,203.8 L645.5,204.1 L648.7,204.5 L651.9,204.8 L655.0,205.2 L658.2,205.5 L661.4,205.9 L664.5,206.3 L667.7,206.7 L670.8,207.1 L674.0,207.5 L677.2,207.9 L680.3,208.3 L683.5,208.8 L686.6,209.2 L689.8,209.7 L692.9,210.1 L696.1,210.6 L699.2,211.1 L702.4,211.6 L705.5,212.1 L708.7,212.6 L711.8,213.2 L714.9,213.7 L718.1,214.3 L721.2,214.9 L724.3,215.5 L727.5,216.0 L730.6,216.7 L733.7,217.3 L736.8,217.9 L740.0,218.5 L743.1,219.2 L746.2,219.9 L749.3,220.6 L752.4,221.2 L755.5,222.0 L758.6,222.7 L761.7,223.4 L764.8,224.2 L767.9,224.9 L771.0,225.7 L774.1,226.5 L777.2,227.3 L780.3,228.1 L783.3,228.9 L786.4,229.8 L789.5,230.7 L792.5,231.6 L795.6,232.5 L798.6,233.4 L801.7,234.4 L804.7,235.3 L807.7,236.3 L810.7,237.4 L813.7,238.4 L816.7,239.5 L819.7,240.6 L822.7,241.7 L825.7,242.8 L828.7,244.0 L831.6,245.1 L834.6,246.2 L837.6,247.3 L840.6,248.4 L843.7,249.3 L846.7,250.3 L849.8,251.1 L852.9,251.9 L855.9,252.7 L859.0,253.4 L862.1,254.2 L865.2,254.9 L868.4,255.6 L871.4,256.3 L874.5,257.1 L877.6,257.9 L880.7,258.7 L883.8,259.5 L886.9,260.4 L889.9,261.2 L893.0,262.1 L896.1,262.9 L899.1,263.8 L902.2,264.6 L905.3,265.5 L908.4,266.3 L911.4,267.1 L914.5,267.9 L917.6,268.7 L920.7,269.4 L923.8,270.1 L927.0,270.7 L930.1,271.3 L933.2,271.9 L936.3,272.5 L939.5,273.2 L942.6,273.9 L945.6,274.8 L948.7,275.7 L951.6,276.9 L954.5,278.3 L957.3,279.8 L959.9,281.7 L962.3,283.7 L964.6,286.0 L966.7,288.4 L968.6,290.9 L970.4,293.5 L972.1,296.2 L973.6,299.0 L975.0,301.9 L976.4,304.8 L977.7,307.7 L978.8,310.6 L980.0,313.6 L981.0,316.6 L982.1,319.6 L983.0,322.7 L984.0,325.7 L985.0,328.7 L985.9,331.8 L986.8,334.8 L987.8,337.9 L988.8,340.9" fill="none" stroke="#f27868" stroke-width="1.3" stroke-opacity="0.9"/>
</g>
<circle cx="169.1" cy="314.1" r="1.15" fill="#ffb4a8" fill-opacity="0.5"/>
<circle cx="231.1" cy="234.3" r="1.15" fill="#ffb4a8" fill-opacity="0.5"/>
<circle cx="292.7" cy="209.8" r="1.15" fill="#ffb4a8" fill-opacity="0.5"/>
<circle cx="340.1" cy="203.8" r="1.15" fill="#ffb4a8" fill-opacity="0.5"/>
<circle cx="394.1" cy="199.8" r="1.15" fill="#ffb4a8" fill-opacity="0.5"/>
<circle cx="448.2" cy="197.8" r="1.15" fill="#ffb4a8" fill-opacity="0.5"/>
<circle cx="496.0" cy="197.3" r="1.15" fill="#ffb4a8" fill-opacity="0.5"/>
<circle cx="540.6" cy="197.8" r="1.15" fill="#ffb4a8" fill-opacity="0.5"/>
<circle cx="585.2" cy="199.5" r="1.15" fill="#ffb4a8" fill-opacity="0.5"/>
<circle cx="623.3" cy="202.1" r="1.15" fill="#ffb4a8" fill-opacity="0.5"/>
<circle cx="658.2" cy="205.5" r="1.15" fill="#ffb4a8" fill-opacity="0.5"/>
<circle cx="699.2" cy="211.1" r="1.15" fill="#ffb4a8" fill-opacity="0.5"/>
<circle cx="730.6" cy="216.7" r="1.15" fill="#ffb4a8" fill-opacity="0.5"/>
<circle cx="761.7" cy="223.4" r="1.15" fill="#ffb4a8" fill-opacity="0.5"/>
<circle cx="819.7" cy="240.6" r="1.15" fill="#ffb4a8" fill-opacity="0.5"/>
<circle cx="889.9" cy="261.2" r="1.15" fill="#ffb4a8" fill-opacity="0.5"/>
<circle cx="905.3" cy="265.5" r="1.15" fill="#ffb4a8" fill-opacity="0.5"/>
<circle cx="923.8" cy="270.1" r="1.15" fill="#ffb4a8" fill-opacity="0.5"/>
<circle cx="964.6" cy="286.0" r="1.15" fill="#ffb4a8" fill-opacity="0.5"/>
<circle cx="988.8" cy="340.9" r="1.15" fill="#ffb4a8" fill-opacity="0.5"/>
<path d="M149.6,347.0 L151.2,343.8 L152.7,340.7 L154.3,337.5 L155.8,334.3 L157.2,331.1 L158.7,327.8 L160.1,324.6 L161.5,321.4 L162.9,318.1 L164.3,314.9 L165.7,311.6 L167.0,308.4 L168.4,305.1 L169.7,301.8 L171.1,298.6 L172.4,295.3 L173.8,292.0 L175.1,288.8 L176.5,285.5 L177.9,282.3 L179.3,279.0 L180.6,275.8 L182.0,272.5 L183.5,269.3 L184.9,266.0 L186.4,262.8 L187.8,259.6 L189.3,256.4 L190.9,253.2 L192.4,250.1 L194.0,246.9 L195.6,243.8 L197.2,240.6 L198.9,237.5 L200.6,234.4 L202.3,231.3 L204.0,228.2 L205.7,225.1 L207.5,222.1 L209.3,219.1 L211.2,216.0 L213.0,213.0 L214.9,210.0 L216.8,207.1 L218.8,204.1 L220.7,201.2 L222.7,198.3 L224.8,195.4 L226.8,192.5 L228.9,189.7 L231.0,186.8 L233.2,184.0 L235.4,181.3 L237.6,178.5 L239.8,175.8 L242.1,173.1 L244.4,170.4 L246.8,167.8 L249.2,165.2 L251.6,162.6 L254.0,160.1 L256.5,157.6 L259.1,155.1 L261.6,152.7 L264.2,150.3 L266.9,147.9 L269.5,145.6 L272.3,143.3 L275.0,141.1 L277.8,138.9 L280.6,136.8 L283.4,134.7 L286.3,132.7 L289.2,130.6 L292.1,128.6 L295.0,126.6 L297.9,124.5 L300.8,122.5 L303.6,120.4 L306.5,118.3 L309.4,116.3 L312.2,114.2 L315.1,112.2 L318.1,110.3 L321.1,108.4 L324.2,106.7 L327.3,105.0 L330.5,103.5 L333.7,102.0 L337.0,100.7 L340.3,99.4 L343.6,98.2 L347.0,97.2 L350.4,96.2 L353.8,95.3 L357.2,94.5 L360.7,93.8 L364.1,93.1 L367.6,92.5 L371.1,92.0 L374.6,91.5 L378.1,91.1 L381.6,90.6 L385.1,90.3 L388.7,89.9 L392.2,89.5 L395.7,89.2 L399.2,88.9 L402.7,88.6 L406.3,88.3 L409.8,88.0 L413.3,87.7 L416.8,87.5 L420.3,87.2 L423.9,86.9 L427.4,86.7 L430.9,86.4 L434.4,86.1 L438.0,85.9 L441.5,85.6 L445.0,85.3 L448.5,85.1 L452.1,84.8 L455.6,84.6 L459.1,84.4 L462.6,84.2 L466.2,84.0 L469.7,83.9 L473.2,83.8 L476.8,83.7 L480.3,83.6 L483.8,83.6 L487.4,83.6 L490.9,83.7 L494.4,83.8 L497.9,83.9 L501.5,84.1 L505.0,84.4 L508.5,84.7 L512.0,85.1 L515.5,85.5 L519.0,86.0 L522.5,86.5 L526.0,87.2 L529.5,87.8 L532.9,88.5 L536.4,89.3 L539.8,90.1 L543.3,90.9 L546.7,91.7 L550.1,92.6 L553.5,93.5 L557.0,94.4 L560.4,95.3 L563.8,96.2 L567.2,97.1 L570.6,98.1 L574.0,99.0 L577.4,99.9 L580.9,100.7 L584.3,101.6 L587.7,102.4 L591.2,103.2 L594.6,104.0 L598.1,104.7 L601.5,105.4 L605.0,106.2 L608.5,106.9 L611.9,107.6 L615.4,108.4 L618.8,109.1 L622.3,109.8 L625.7,110.6 L629.2,111.4 L632.6,112.2 L636.1,113.0 L639.5,113.8 L642.9,114.7 L646.3,115.6 L649.7,116.5 L653.2,117.4 L656.6,118.4 L660.0,119.3 L663.3,120.3 L666.7,121.3 L670.1,122.4 L673.5,123.4 L676.8,124.5 L680.2,125.6 L683.5,126.8 L686.9,127.9 L690.2,129.1 L693.6,130.3 L696.9,131.5 L700.2,132.7 L703.5,134.0 L706.8,135.2 L710.1,136.5 L713.3,137.9 L716.6,139.2 L719.9,140.6 L723.1,141.9 L726.4,143.3 L729.6,144.8 L732.8,146.2 L736.0,147.7 L739.2,149.2 L742.4,150.7 L745.6,152.2 L748.8,153.8 L752.0,155.3 L755.1,156.9 L758.3,158.5 L761.4,160.1 L764.6,161.7 L767.7,163.3 L770.9,164.9 L774.0,166.6 L777.1,168.2 L780.3,169.8 L783.4,171.4 L786.5,173.1 L789.7,174.7 L792.8,176.3 L796.0,177.9 L799.1,179.5 L802.3,181.1 L805.4,182.7 L808.6,184.3 L811.7,186.0 L814.8,187.6 L817.9,189.3 L821.1,190.9 L824.2,192.6 L827.3,194.3 L830.4,196.0 L833.4,197.7 L836.5,199.5 L839.6,201.2 L842.7,202.9 L845.7,204.7 L848.8,206.4 L851.9,208.2 L854.9,210.0 L858.0,211.7 L861.1,213.5 L864.1,215.3 L867.2,217.1 L870.2,218.8 L873.3,220.6 L876.3,222.4 L879.4,224.2 L882.4,226.0 L885.5,227.7 L888.5,229.5 L891.6,231.3 L894.7,233.0 L897.7,234.8 L900.8,236.5 L903.9,238.3 L907.0,240.0 L910.1,241.7 L913.1,243.4 L916.2,245.1 L919.3,246.8 L922.5,248.5 L925.6,250.2 L928.7,251.8 L931.8,253.4 L935.0,255.1 L938.1,256.7 L941.2,258.3 L944.4,259.9 L947.5,261.6 L950.6,263.3 L953.6,265.1 L956.6,267.1 L959.4,269.2 L962.0,271.6 L964.4,274.2 L966.5,277.0 L968.4,280.0 L970.1,283.1 L971.5,286.3 L972.8,289.6 L973.9,293.0 L974.9,296.3 L975.9,299.8 L976.7,303.2 L977.5,306.6 L978.3,310.1 L979.1,313.5 L980.0,316.9 L980.9,320.4 L981.8,323.7 L982.9,327.1 L984.2,330.4 L985.6,333.7 L987.2,336.8" fill="none" stroke="#2d5ea8" stroke-width="13" stroke-opacity="0.55" filter="url(#gw)"/>
<path d="M149.6,347.0 L151.2,343.8 L152.7,340.7 L154.3,337.5 L155.8,334.3 L157.2,331.1 L158.7,327.8 L160.1,324.6 L161.5,321.4 L162.9,318.1 L164.3,314.9 L165.7,311.6 L167.0,308.4 L168.4,305.1 L169.7,301.8 L171.1,298.6 L172.4,295.3 L173.8,292.0 L175.1,288.8 L176.5,285.5 L177.9,282.3 L179.3,279.0 L180.6,275.8 L182.0,272.5 L183.5,269.3 L184.9,266.0 L186.4,262.8 L187.8,259.6 L189.3,256.4 L190.9,253.2 L192.4,250.1 L194.0,246.9 L195.6,243.8 L197.2,240.6 L198.9,237.5 L200.6,234.4 L202.3,231.3 L204.0,228.2 L205.7,225.1 L207.5,222.1 L209.3,219.1 L211.2,216.0 L213.0,213.0 L214.9,210.0 L216.8,207.1 L218.8,204.1 L220.7,201.2 L222.7,198.3 L224.8,195.4 L226.8,192.5 L228.9,189.7 L231.0,186.8 L233.2,184.0 L235.4,181.3 L237.6,178.5 L239.8,175.8 L242.1,173.1 L244.4,170.4 L246.8,167.8 L249.2,165.2 L251.6,162.6 L254.0,160.1 L256.5,157.6 L259.1,155.1 L261.6,152.7 L264.2,150.3 L266.9,147.9 L269.5,145.6 L272.3,143.3 L275.0,141.1 L277.8,138.9 L280.6,136.8 L283.4,134.7 L286.3,132.7 L289.2,130.6 L292.1,128.6 L295.0,126.6 L297.9,124.5 L300.8,122.5 L303.6,120.4 L306.5,118.3 L309.4,116.3 L312.2,114.2 L315.1,112.2 L318.1,110.3 L321.1,108.4 L324.2,106.7 L327.3,105.0 L330.5,103.5 L333.7,102.0 L337.0,100.7 L340.3,99.4 L343.6,98.2 L347.0,97.2 L350.4,96.2 L353.8,95.3 L357.2,94.5 L360.7,93.8 L364.1,93.1 L367.6,92.5 L371.1,92.0 L374.6,91.5 L378.1,91.1 L381.6,90.6 L385.1,90.3 L388.7,89.9 L392.2,89.5 L395.7,89.2 L399.2,88.9 L402.7,88.6 L406.3,88.3 L409.8,88.0 L413.3,87.7 L416.8,87.5 L420.3,87.2 L423.9,86.9 L427.4,86.7 L430.9,86.4 L434.4,86.1 L438.0,85.9 L441.5,85.6 L445.0,85.3 L448.5,85.1 L452.1,84.8 L455.6,84.6 L459.1,84.4 L462.6,84.2 L466.2,84.0 L469.7,83.9 L473.2,83.8 L476.8,83.7 L480.3,83.6 L483.8,83.6 L487.4,83.6 L490.9,83.7 L494.4,83.8 L497.9,83.9 L501.5,84.1 L505.0,84.4 L508.5,84.7 L512.0,85.1 L515.5,85.5 L519.0,86.0 L522.5,86.5 L526.0,87.2 L529.5,87.8 L532.9,88.5 L536.4,89.3 L539.8,90.1 L543.3,90.9 L546.7,91.7 L550.1,92.6 L553.5,93.5 L557.0,94.4 L560.4,95.3 L563.8,96.2 L567.2,97.1 L570.6,98.1 L574.0,99.0 L577.4,99.9 L580.9,100.7 L584.3,101.6 L587.7,102.4 L591.2,103.2 L594.6,104.0 L598.1,104.7 L601.5,105.4 L605.0,106.2 L608.5,106.9 L611.9,107.6 L615.4,108.4 L618.8,109.1 L622.3,109.8 L625.7,110.6 L629.2,111.4 L632.6,112.2 L636.1,113.0 L639.5,113.8 L642.9,114.7 L646.3,115.6 L649.7,116.5 L653.2,117.4 L656.6,118.4 L660.0,119.3 L663.3,120.3 L666.7,121.3 L670.1,122.4 L673.5,123.4 L676.8,124.5 L680.2,125.6 L683.5,126.8 L686.9,127.9 L690.2,129.1 L693.6,130.3 L696.9,131.5 L700.2,132.7 L703.5,134.0 L706.8,135.2 L710.1,136.5 L713.3,137.9 L716.6,139.2 L719.9,140.6 L723.1,141.9 L726.4,143.3 L729.6,144.8 L732.8,146.2 L736.0,147.7 L739.2,149.2 L742.4,150.7 L745.6,152.2 L748.8,153.8 L752.0,155.3 L755.1,156.9 L758.3,158.5 L761.4,160.1 L764.6,161.7 L767.7,163.3 L770.9,164.9 L774.0,166.6 L777.1,168.2 L780.3,169.8 L783.4,171.4 L786.5,173.1 L789.7,174.7 L792.8,176.3 L796.0,177.9 L799.1,179.5 L802.3,181.1 L805.4,182.7 L808.6,184.3 L811.7,186.0 L814.8,187.6 L817.9,189.3 L821.1,190.9 L824.2,192.6 L827.3,194.3 L830.4,196.0 L833.4,197.7 L836.5,199.5 L839.6,201.2 L842.7,202.9 L845.7,204.7 L848.8,206.4 L851.9,208.2 L854.9,210.0 L858.0,211.7 L861.1,213.5 L864.1,215.3 L867.2,217.1 L870.2,218.8 L873.3,220.6 L876.3,222.4 L879.4,224.2 L882.4,226.0 L885.5,227.7 L888.5,229.5 L891.6,231.3 L894.7,233.0 L897.7,234.8 L900.8,236.5 L903.9,238.3 L907.0,240.0 L910.1,241.7 L913.1,243.4 L916.2,245.1 L919.3,246.8 L922.5,248.5 L925.6,250.2 L928.7,251.8 L931.8,253.4 L935.0,255.1 L938.1,256.7 L941.2,258.3 L944.4,259.9 L947.5,261.6 L950.6,263.3 L953.6,265.1 L956.6,267.1 L959.4,269.2 L962.0,271.6 L964.4,274.2 L966.5,277.0 L968.4,280.0 L970.1,283.1 L971.5,286.3 L972.8,289.6 L973.9,293.0 L974.9,296.3 L975.9,299.8 L976.7,303.2 L977.5,306.6 L978.3,310.1 L979.1,313.5 L980.0,316.9 L980.9,320.4 L981.8,323.7 L982.9,327.1 L984.2,330.4 L985.6,333.7 L987.2,336.8" fill="none" stroke="#3566ae" stroke-width="6.5" stroke-opacity="0.85" filter="url(#gn)"/>
<g filter="url(#soft)">
<path d="M149.6,347.0 L151.2,343.8 L152.7,340.7 L154.3,337.5 L155.8,334.3 L157.2,331.1 L158.7,327.8 L160.1,324.6 L161.5,321.4 L162.9,318.1 L164.3,314.9 L165.7,311.6 L167.0,308.4 L168.4,305.1 L169.7,301.8 L171.1,298.6 L172.4,295.3 L173.8,292.0 L175.1,288.8 L176.5,285.5 L177.9,282.3 L179.3,279.0 L180.6,275.8 L182.0,272.5 L183.5,269.3 L184.9,266.0 L186.4,262.8 L187.8,259.6 L189.3,256.4 L190.9,253.2 L192.4,250.1 L194.0,246.9 L195.6,243.8 L197.2,240.6 L198.9,237.5 L200.6,234.4 L202.3,231.3 L204.0,228.2 L205.7,225.1 L207.5,222.1 L209.3,219.1 L211.2,216.0 L213.0,213.0 L214.9,210.0 L216.8,207.1 L218.8,204.1 L220.7,201.2 L222.7,198.3 L224.8,195.4 L226.8,192.5 L228.9,189.7 L231.0,186.8 L233.2,184.0 L235.4,181.3 L237.6,178.5 L239.8,175.8 L242.1,173.1 L244.4,170.4 L246.8,167.8 L249.2,165.2 L251.6,162.6 L254.0,160.1 L256.5,157.6 L259.1,155.1 L261.6,152.7 L264.2,150.3 L266.9,147.9 L269.5,145.6 L272.3,143.3 L275.0,141.1 L277.8,138.9 L280.6,136.8 L283.4,134.7 L286.3,132.7 L289.2,130.6 L292.1,128.6 L295.0,126.6 L297.9,124.5 L300.8,122.5 L303.6,120.4 L306.5,118.3 L309.4,116.3 L312.2,114.2 L315.1,112.2 L318.1,110.3 L321.1,108.4 L324.2,106.7 L327.3,105.0 L330.5,103.5 L333.7,102.0 L337.0,100.7 L340.3,99.4 L343.6,98.2 L347.0,97.2 L350.4,96.2 L353.8,95.3 L357.2,94.5 L360.7,93.8 L364.1,93.1 L367.6,92.5 L371.1,92.0 L374.6,91.5 L378.1,91.1 L381.6,90.6 L385.1,90.3 L388.7,89.9 L392.2,89.5 L395.7,89.2 L399.2,88.9 L402.7,88.6 L406.3,88.3 L409.8,88.0 L413.3,87.7 L416.8,87.5 L420.3,87.2 L423.9,86.9 L427.4,86.7 L430.9,86.4 L434.4,86.1 L438.0,85.9 L441.5,85.6 L445.0,85.3 L448.5,85.1 L452.1,84.8 L455.6,84.6 L459.1,84.4 L462.6,84.2 L466.2,84.0 L469.7,83.9 L473.2,83.8 L476.8,83.7 L480.3,83.6 L483.8,83.6 L487.4,83.6 L490.9,83.7 L494.4,83.8 L497.9,83.9 L501.5,84.1 L505.0,84.4 L508.5,84.7 L512.0,85.1 L515.5,85.5 L519.0,86.0 L522.5,86.5 L526.0,87.2 L529.5,87.8 L532.9,88.5 L536.4,89.3 L539.8,90.1 L543.3,90.9 L546.7,91.7 L550.1,92.6 L553.5,93.5 L557.0,94.4 L560.4,95.3 L563.8,96.2 L567.2,97.1 L570.6,98.1 L574.0,99.0 L577.4,99.9 L580.9,100.7 L584.3,101.6 L587.7,102.4 L591.2,103.2 L594.6,104.0 L598.1,104.7 L601.5,105.4 L605.0,106.2 L608.5,106.9 L611.9,107.6 L615.4,108.4 L618.8,109.1 L622.3,109.8 L625.7,110.6 L629.2,111.4 L632.6,112.2 L636.1,113.0 L639.5,113.8 L642.9,114.7 L646.3,115.6 L649.7,116.5 L653.2,117.4 L656.6,118.4 L660.0,119.3 L663.3,120.3 L666.7,121.3 L670.1,122.4 L673.5,123.4 L676.8,124.5 L680.2,125.6 L683.5,126.8 L686.9,127.9 L690.2,129.1 L693.6,130.3 L696.9,131.5 L700.2,132.7 L703.5,134.0 L706.8,135.2 L710.1,136.5 L713.3,137.9 L716.6,139.2 L719.9,140.6 L723.1,141.9 L726.4,143.3 L729.6,144.8 L732.8,146.2 L736.0,147.7 L739.2,149.2 L742.4,150.7 L745.6,152.2 L748.8,153.8 L752.0,155.3 L755.1,156.9 L758.3,158.5 L761.4,160.1 L764.6,161.7 L767.7,163.3 L770.9,164.9 L774.0,166.6 L777.1,168.2 L780.3,169.8 L783.4,171.4 L786.5,173.1 L789.7,174.7 L792.8,176.3 L796.0,177.9 L799.1,179.5 L802.3,181.1 L805.4,182.7 L808.6,184.3 L811.7,186.0 L814.8,187.6 L817.9,189.3 L821.1,190.9 L824.2,192.6 L827.3,194.3 L830.4,196.0 L833.4,197.7 L836.5,199.5 L839.6,201.2 L842.7,202.9 L845.7,204.7 L848.8,206.4 L851.9,208.2 L854.9,210.0 L858.0,211.7 L861.1,213.5 L864.1,215.3 L867.2,217.1 L870.2,218.8 L873.3,220.6 L876.3,222.4 L879.4,224.2 L882.4,226.0 L885.5,227.7 L888.5,229.5 L891.6,231.3 L894.7,233.0 L897.7,234.8 L900.8,236.5 L903.9,238.3 L907.0,240.0 L910.1,241.7 L913.1,243.4 L916.2,245.1 L919.3,246.8 L922.5,248.5 L925.6,250.2 L928.7,251.8 L931.8,253.4 L935.0,255.1 L938.1,256.7 L941.2,258.3 L944.4,259.9 L947.5,261.6 L950.6,263.3 L953.6,265.1 L956.6,267.1 L959.4,269.2 L962.0,271.6 L964.4,274.2 L966.5,277.0 L968.4,280.0 L970.1,283.1 L971.5,286.3 L972.8,289.6 L973.9,293.0 L974.9,296.3 L975.9,299.8 L976.7,303.2 L977.5,306.6 L978.3,310.1 L979.1,313.5 L980.0,316.9 L980.9,320.4 L981.8,323.7 L982.9,327.1 L984.2,330.4 L985.6,333.7 L987.2,336.8" fill="none" stroke="#4072b6" stroke-width="3.6" stroke-opacity="0.75"/>
<path d="M149.6,347.0 L151.2,343.8 L152.7,340.7 L154.3,337.5 L155.8,334.3 L157.2,331.1 L158.7,327.8 L160.1,324.6 L161.5,321.4 L162.9,318.1 L164.3,314.9 L165.7,311.6 L167.0,308.4 L168.4,305.1 L169.7,301.8 L171.1,298.6 L172.4,295.3 L173.8,292.0 L175.1,288.8 L176.5,285.5 L177.9,282.3 L179.3,279.0 L180.6,275.8 L182.0,272.5 L183.5,269.3 L184.9,266.0 L186.4,262.8 L187.8,259.6 L189.3,256.4 L190.9,253.2 L192.4,250.1 L194.0,246.9 L195.6,243.8 L197.2,240.6 L198.9,237.5 L200.6,234.4 L202.3,231.3 L204.0,228.2 L205.7,225.1 L207.5,222.1 L209.3,219.1 L211.2,216.0 L213.0,213.0 L214.9,210.0 L216.8,207.1 L218.8,204.1 L220.7,201.2 L222.7,198.3 L224.8,195.4 L226.8,192.5 L228.9,189.7 L231.0,186.8 L233.2,184.0 L235.4,181.3 L237.6,178.5 L239.8,175.8 L242.1,173.1 L244.4,170.4 L246.8,167.8 L249.2,165.2 L251.6,162.6 L254.0,160.1 L256.5,157.6 L259.1,155.1 L261.6,152.7 L264.2,150.3 L266.9,147.9 L269.5,145.6 L272.3,143.3 L275.0,141.1 L277.8,138.9 L280.6,136.8 L283.4,134.7 L286.3,132.7 L289.2,130.6 L292.1,128.6 L295.0,126.6 L297.9,124.5 L300.8,122.5 L303.6,120.4 L306.5,118.3 L309.4,116.3 L312.2,114.2 L315.1,112.2 L318.1,110.3 L321.1,108.4 L324.2,106.7 L327.3,105.0 L330.5,103.5 L333.7,102.0 L337.0,100.7 L340.3,99.4 L343.6,98.2 L347.0,97.2 L350.4,96.2 L353.8,95.3 L357.2,94.5 L360.7,93.8 L364.1,93.1 L367.6,92.5 L371.1,92.0 L374.6,91.5 L378.1,91.1 L381.6,90.6 L385.1,90.3 L388.7,89.9 L392.2,89.5 L395.7,89.2 L399.2,88.9 L402.7,88.6 L406.3,88.3 L409.8,88.0 L413.3,87.7 L416.8,87.5 L420.3,87.2 L423.9,86.9 L427.4,86.7 L430.9,86.4 L434.4,86.1 L438.0,85.9 L441.5,85.6 L445.0,85.3 L448.5,85.1 L452.1,84.8 L455.6,84.6 L459.1,84.4 L462.6,84.2 L466.2,84.0 L469.7,83.9 L473.2,83.8 L476.8,83.7 L480.3,83.6 L483.8,83.6 L487.4,83.6 L490.9,83.7 L494.4,83.8 L497.9,83.9 L501.5,84.1 L505.0,84.4 L508.5,84.7 L512.0,85.1 L515.5,85.5 L519.0,86.0 L522.5,86.5 L526.0,87.2 L529.5,87.8 L532.9,88.5 L536.4,89.3 L539.8,90.1 L543.3,90.9 L546.7,91.7 L550.1,92.6 L553.5,93.5 L557.0,94.4 L560.4,95.3 L563.8,96.2 L567.2,97.1 L570.6,98.1 L574.0,99.0 L577.4,99.9 L580.9,100.7 L584.3,101.6 L587.7,102.4 L591.2,103.2 L594.6,104.0 L598.1,104.7 L601.5,105.4 L605.0,106.2 L608.5,106.9 L611.9,107.6 L615.4,108.4 L618.8,109.1 L622.3,109.8 L625.7,110.6 L629.2,111.4 L632.6,112.2 L636.1,113.0 L639.5,113.8 L642.9,114.7 L646.3,115.6 L649.7,116.5 L653.2,117.4 L656.6,118.4 L660.0,119.3 L663.3,120.3 L666.7,121.3 L670.1,122.4 L673.5,123.4 L676.8,124.5 L680.2,125.6 L683.5,126.8 L686.9,127.9 L690.2,129.1 L693.6,130.3 L696.9,131.5 L700.2,132.7 L703.5,134.0 L706.8,135.2 L710.1,136.5 L713.3,137.9 L716.6,139.2 L719.9,140.6 L723.1,141.9 L726.4,143.3 L729.6,144.8 L732.8,146.2 L736.0,147.7 L739.2,149.2 L742.4,150.7 L745.6,152.2 L748.8,153.8 L752.0,155.3 L755.1,156.9 L758.3,158.5 L761.4,160.1 L764.6,161.7 L767.7,163.3 L770.9,164.9 L774.0,166.6 L777.1,168.2 L780.3,169.8 L783.4,171.4 L786.5,173.1 L789.7,174.7 L792.8,176.3 L796.0,177.9 L799.1,179.5 L802.3,181.1 L805.4,182.7 L808.6,184.3 L811.7,186.0 L814.8,187.6 L817.9,189.3 L821.1,190.9 L824.2,192.6 L827.3,194.3 L830.4,196.0 L833.4,197.7 L836.5,199.5 L839.6,201.2 L842.7,202.9 L845.7,204.7 L848.8,206.4 L851.9,208.2 L854.9,210.0 L858.0,211.7 L861.1,213.5 L864.1,215.3 L867.2,217.1 L870.2,218.8 L873.3,220.6 L876.3,222.4 L879.4,224.2 L882.4,226.0 L885.5,227.7 L888.5,229.5 L891.6,231.3 L894.7,233.0 L897.7,234.8 L900.8,236.5 L903.9,238.3 L907.0,240.0 L910.1,241.7 L913.1,243.4 L916.2,245.1 L919.3,246.8 L922.5,248.5 L925.6,250.2 L928.7,251.8 L931.8,253.4 L935.0,255.1 L938.1,256.7 L941.2,258.3 L944.4,259.9 L947.5,261.6 L950.6,263.3 L953.6,265.1 L956.6,267.1 L959.4,269.2 L962.0,271.6 L964.4,274.2 L966.5,277.0 L968.4,280.0 L970.1,283.1 L971.5,286.3 L972.8,289.6 L973.9,293.0 L974.9,296.3 L975.9,299.8 L976.7,303.2 L977.5,306.6 L978.3,310.1 L979.1,313.5 L980.0,316.9 L980.9,320.4 L981.8,323.7 L982.9,327.1 L984.2,330.4 L985.6,333.7 L987.2,336.8" fill="none" stroke="#6a98d2" stroke-width="1.4" stroke-opacity="0.8"/>
</g>
<circle cx="947.5" cy="261.6" r="1.15" fill="#a8ccff" fill-opacity="0.35"/>
<circle cx="956.6" cy="267.1" r="1.15" fill="#a8ccff" fill-opacity="0.35"/>
<circle cx="978.3" cy="310.1" r="1.15" fill="#a8ccff" fill-opacity="0.35"/>
<circle cx="987.2" cy="336.8" r="1.15" fill="#a8ccff" fill-opacity="0.35"/>
<path d="M69.5,9.5V694 M149.5,9.5V694 M229.5,9.5V694 M309.5,9.5V694 M389.5,9.5V694 M469.5,9.5V694 M549.5,9.5V694 M629.5,9.5V694 M709.5,9.5V694 M789.5,9.5V694 M869.5,9.5V694 M949.5,9.5V694 M1030.5,9.5V694 M63.5,9.5H1030.5 M63.5,66.5H1030.5 M63.5,122.5H1030.5 M63.5,178.5H1030.5 M63.5,235.5H1030.5 M63.5,291.5H1030.5 M63.5,347.5H1030.5 M63.5,403.5H1030.5 M63.5,459.5H1030.5 M63.5,516.5H1030.5 M63.5,572.5H1030.5 M63.5,628.5H1030.5 M63.5,684.5H1030.5 M1030.5,684.5H1037 M1030.5,609.5H1037 M1030.5,534.5H1037 M1030.5,459.5H1037 M1030.5,384.5H1037 M1030.5,309.5H1037 M1030.5,234.5H1037 M1030.5,159.5H1037 M1030.5,84.5H1037 M1030.5,9.5H1037" stroke="#ffffff" stroke-opacity="0.35" stroke-width="1" fill="none"/>
<rect x="275" y="248" width="550" height="245" fill="#f2f2f2" fill-opacity="0.42"/>
<g opacity="0.66">
<path d="M383,329 L383,317 L396.5,303.0 L396.5,304.0 L396.5,279.0 L368.5,279.0 L368.5,304.0 L346.8,313.0 L329.1,295.3 L309.3,315.1 L327.0,332.8 L318.0,354.5 L293.0,354.5 L293.0,382.5 L318.0,382.5 L327.0,404.2 L309.3,421.9 L329.1,441.7 L346.8,424.0 L368.5,433.0 L368.5,458.0 L396.5,458.0 L396.5,433.0 L383,420 L383,408" fill="none" stroke="#a41616" stroke-width="5.8" stroke-linejoin="round"/>
<path d="M383,329.5 A39,39 0 0 0 383,407.5" fill="none" stroke="#7a0c0c" stroke-width="1.6"/>
<path d="M397,304.0 C403,293.0 412,287.0 423.5,286.5" fill="none" stroke="#a41616" stroke-width="5.6"/>
<path d="M417,331.0 Q427,316.0 441.5,315.7" fill="none" stroke="#a41616" stroke-width="5.6"/>
<circle cx="430.5" cy="286.3" r="7.1" fill="none" stroke="#a41616" stroke-width="5.2"/>
<circle cx="448.5" cy="315.7" r="7.1" fill="none" stroke="#a41616" stroke-width="5.2"/>
<path d="M397,433.0 C403,444.0 412,450.0 423.5,450.5" fill="none" stroke="#a41616" stroke-width="5.6"/>
<path d="M417,406.0 Q427,421.0 441.5,421.3" fill="none" stroke="#a41616" stroke-width="5.6"/>
<circle cx="430.5" cy="450.7" r="7.1" fill="none" stroke="#a41616" stroke-width="5.2"/>
<circle cx="448.5" cy="421.3" r="7.1" fill="none" stroke="#a41616" stroke-width="5.2"/>
</g>
<text class="wm" x="0" y="0" transform="translate(363.5,375) scale(1.2,1)">PERFORMANCE CAR SOLUTIONS</text>
</svg></body></html>
